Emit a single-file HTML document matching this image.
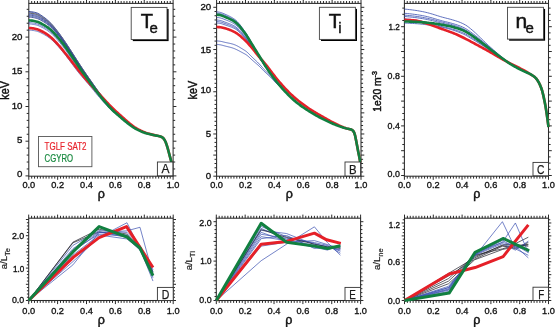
<!DOCTYPE html>
<html><head><meta charset="utf-8"><style>
html,body{margin:0;padding:0;background:#fff;overflow:hidden;width:556px;height:327px;}
svg{display:block;font-family:"Liberation Sans", sans-serif;will-change:transform;}
</style></head><body>
<svg width="556" height="327" viewBox="0 0 556 327">
<rect width="556" height="327" fill="#fff"/>
<path d="M28.80,176.2v3.6M28.80,3.4v-3.6M31.69,176.2v2.4M31.69,3.4v-2.4M34.57,176.2v2.4M34.57,3.4v-2.4M37.46,176.2v2.4M37.46,3.4v-2.4M40.34,176.2v2.4M40.34,3.4v-2.4M43.23,176.2v2.4M43.23,3.4v-2.4M46.12,176.2v2.4M46.12,3.4v-2.4M49.00,176.2v2.4M49.00,3.4v-2.4M51.89,176.2v2.4M51.89,3.4v-2.4M54.77,176.2v2.4M54.77,3.4v-2.4M57.66,176.2v3.6M57.66,3.4v-3.6M60.55,176.2v2.4M60.55,3.4v-2.4M63.43,176.2v2.4M63.43,3.4v-2.4M66.32,176.2v2.4M66.32,3.4v-2.4M69.20,176.2v2.4M69.20,3.4v-2.4M72.09,176.2v2.4M72.09,3.4v-2.4M74.98,176.2v2.4M74.98,3.4v-2.4M77.86,176.2v2.4M77.86,3.4v-2.4M80.75,176.2v2.4M80.75,3.4v-2.4M83.63,176.2v2.4M83.63,3.4v-2.4M86.52,176.2v3.6M86.52,3.4v-3.6M89.41,176.2v2.4M89.41,3.4v-2.4M92.29,176.2v2.4M92.29,3.4v-2.4M95.18,176.2v2.4M95.18,3.4v-2.4M98.06,176.2v2.4M98.06,3.4v-2.4M100.95,176.2v2.4M100.95,3.4v-2.4M103.84,176.2v2.4M103.84,3.4v-2.4M106.72,176.2v2.4M106.72,3.4v-2.4M109.61,176.2v2.4M109.61,3.4v-2.4M112.49,176.2v2.4M112.49,3.4v-2.4M115.38,176.2v3.6M115.38,3.4v-3.6M118.27,176.2v2.4M118.27,3.4v-2.4M121.15,176.2v2.4M121.15,3.4v-2.4M124.04,176.2v2.4M124.04,3.4v-2.4M126.92,176.2v2.4M126.92,3.4v-2.4M129.81,176.2v2.4M129.81,3.4v-2.4M132.70,176.2v2.4M132.70,3.4v-2.4M135.58,176.2v2.4M135.58,3.4v-2.4M138.47,176.2v2.4M138.47,3.4v-2.4M141.35,176.2v2.4M141.35,3.4v-2.4M144.24,176.2v3.6M144.24,3.4v-3.6M147.13,176.2v2.4M147.13,3.4v-2.4M150.01,176.2v2.4M150.01,3.4v-2.4M152.90,176.2v2.4M152.90,3.4v-2.4M155.78,176.2v2.4M155.78,3.4v-2.4M158.67,176.2v2.4M158.67,3.4v-2.4M161.56,176.2v2.4M161.56,3.4v-2.4M164.44,176.2v2.4M164.44,3.4v-2.4M167.33,176.2v2.4M167.33,3.4v-2.4M170.21,176.2v2.4M170.21,3.4v-2.4M173.10,176.2v3.6M173.10,3.4v-3.6M28.8,175.90h-3.3M173.1,175.90h3.3M28.8,168.96h-2.1M173.1,168.96h2.1M28.8,162.02h-2.1M173.1,162.02h2.1M28.8,155.08h-2.1M173.1,155.08h2.1M28.8,148.14h-2.1M173.1,148.14h2.1M28.8,141.20h-3.3M173.1,141.20h3.3M28.8,134.26h-2.1M173.1,134.26h2.1M28.8,127.32h-2.1M173.1,127.32h2.1M28.8,120.38h-2.1M173.1,120.38h2.1M28.8,113.44h-2.1M173.1,113.44h2.1M28.8,106.50h-3.3M173.1,106.50h3.3M28.8,99.56h-2.1M173.1,99.56h2.1M28.8,92.62h-2.1M173.1,92.62h2.1M28.8,85.68h-2.1M173.1,85.68h2.1M28.8,78.74h-2.1M173.1,78.74h2.1M28.8,71.80h-3.3M173.1,71.80h3.3M28.8,64.86h-2.1M173.1,64.86h2.1M28.8,57.92h-2.1M173.1,57.92h2.1M28.8,50.98h-2.1M173.1,50.98h2.1M28.8,44.04h-2.1M173.1,44.04h2.1M28.8,37.10h-3.3M173.1,37.10h3.3M28.8,30.16h-2.1M173.1,30.16h2.1M28.8,23.22h-2.1M173.1,23.22h2.1M28.8,16.28h-2.1M173.1,16.28h2.1M28.8,9.34h-2.1M173.1,9.34h2.1" stroke="#2a2a2a" stroke-width="1.0" fill="none"/>
<rect x="28.8" y="3.4" width="144.29999999999998" height="172.79999999999998" fill="none" stroke="#2a2a2a" stroke-width="1.05"/>
<text x="28.80" y="187.70" font-size="9.7" text-anchor="middle" fill="#111" textLength="12.8" lengthAdjust="spacingAndGlyphs" stroke="#111" stroke-width="0.35">0.0</text>
<text x="57.66" y="187.70" font-size="9.7" text-anchor="middle" fill="#111" textLength="12.8" lengthAdjust="spacingAndGlyphs" stroke="#111" stroke-width="0.35">0.2</text>
<text x="86.52" y="187.70" font-size="9.7" text-anchor="middle" fill="#111" textLength="12.8" lengthAdjust="spacingAndGlyphs" stroke="#111" stroke-width="0.35">0.4</text>
<text x="115.38" y="187.70" font-size="9.7" text-anchor="middle" fill="#111" textLength="12.8" lengthAdjust="spacingAndGlyphs" stroke="#111" stroke-width="0.35">0.6</text>
<text x="144.24" y="187.70" font-size="9.7" text-anchor="middle" fill="#111" textLength="12.8" lengthAdjust="spacingAndGlyphs" stroke="#111" stroke-width="0.35">0.8</text>
<text x="173.10" y="187.70" font-size="9.7" text-anchor="middle" fill="#111" textLength="12.8" lengthAdjust="spacingAndGlyphs" stroke="#111" stroke-width="0.35">1.0</text>
<text x="22.45" y="176.80" font-size="9.7" text-anchor="end" fill="#111" stroke="#111" stroke-width="0.35">0</text>
<text x="22.45" y="143.00" font-size="9.7" text-anchor="end" fill="#111" stroke="#111" stroke-width="0.35">5</text>
<text x="22.45" y="108.50" font-size="9.7" text-anchor="end" fill="#111" stroke="#111" stroke-width="0.35">10</text>
<text x="22.45" y="74.30" font-size="9.7" text-anchor="end" fill="#111" stroke="#111" stroke-width="0.35">15</text>
<text x="22.45" y="39.90" font-size="9.7" text-anchor="end" fill="#111" stroke="#111" stroke-width="0.35">20</text>
<path d="M28.80,11.50 L30.27,11.56 L31.74,11.73 L33.21,11.99 L34.68,12.30 L36.15,12.64 L37.63,13.17 L39.10,13.94 L40.57,14.87 L42.04,15.89 L43.51,16.91 L44.98,17.97 L46.45,19.13 L47.92,20.38 L49.39,21.72 L50.86,23.16 L52.33,24.75 L53.81,26.48 L55.28,28.31 L56.75,30.19 L58.22,32.09 L59.69,34.05 L61.16,36.07 L62.63,38.15 L64.10,40.27 L65.57,42.41 L67.04,44.62 L68.51,46.88 L69.98,49.18 L71.46,51.49 L72.93,53.81 L74.40,56.11 L75.87,58.40 L77.34,60.71 L78.81,63.01 L80.28,65.30 L81.75,67.53 L83.22,69.74 L84.69,71.92 L86.16,74.08 L87.64,76.22 L89.11,78.35 L90.58,80.46 L92.05,82.56 L93.52,84.66 L94.99,86.76 L96.46,88.83 L97.93,90.86 L99.40,92.84 L100.87,94.77 L102.34,96.66 L103.82,98.54 L105.29,100.38 L106.76,102.18 L108.23,103.93 L109.70,105.61 L111.17,107.23 L112.64,108.77 L114.11,110.23 L115.58,111.64 L117.05,113.02 L118.52,114.37 L119.99,115.72 L121.47,117.07 L122.94,118.42 L124.41,119.74 L125.88,121.02 L127.35,122.26 L128.82,123.47 L130.29,124.66 L131.76,125.81 L133.23,126.86 L134.70,127.82 L136.17,128.71 L137.65,129.54 L139.12,130.32 L140.59,131.04 L142.06,131.70 L143.53,132.31 L145.00,132.88" stroke="#243580" stroke-width="0.8" fill="none" stroke-linejoin="round" stroke-linecap="butt" />
<path d="M28.80,12.20 L30.27,12.26 L31.74,12.43 L33.21,12.69 L34.68,13.00 L36.15,13.34 L37.63,13.86 L39.10,14.62 L40.57,15.53 L42.04,16.52 L43.51,17.51 L44.98,18.56 L46.45,19.70 L47.92,20.93 L49.39,22.25 L50.86,23.67 L52.33,25.25 L53.81,26.96 L55.28,28.77 L56.75,30.63 L58.22,32.51 L59.69,34.45 L61.16,36.46 L62.63,38.53 L64.10,40.64 L65.57,42.77 L67.04,44.97 L68.51,47.22 L69.98,49.51 L71.46,51.81 L72.93,54.12 L74.40,56.41 L75.87,58.69 L77.34,60.99 L78.81,63.29 L80.28,65.56 L81.75,67.79 L83.22,69.98 L84.69,72.15 L86.16,74.31 L87.64,76.44 L89.11,78.56 L90.58,80.66 L92.05,82.75 L93.52,84.84 L94.99,86.93 L96.46,88.99 L97.93,91.02 L99.40,92.99 L100.87,94.90 L102.34,96.79 L103.82,98.66 L105.29,100.49 L106.76,102.29 L108.23,104.03 L109.70,105.71 L111.17,107.33 L112.64,108.87 L114.11,110.33 L115.58,111.74 L117.05,113.12 L118.52,114.47 L119.99,115.83 L121.47,117.18 L122.94,118.53 L124.41,119.85 L125.88,121.13 L127.35,122.37 L128.82,123.58 L130.29,124.76 L131.76,125.90 L133.23,126.95 L134.70,127.89 L136.17,128.77 L137.65,129.60 L139.12,130.37 L140.59,131.08 L142.06,131.72 L143.53,132.32 L145.00,132.88" stroke="#3a4fb0" stroke-width="0.8" fill="none" stroke-linejoin="round" stroke-linecap="butt" />
<path d="M28.80,13.10 L30.27,13.16 L31.74,13.33 L33.21,13.59 L34.68,13.90 L36.15,14.24 L37.63,14.75 L39.10,15.50 L40.57,16.39 L42.04,17.35 L43.51,18.32 L44.98,19.34 L46.45,20.44 L47.92,21.63 L49.39,22.91 L50.86,24.30 L52.33,25.84 L53.81,27.53 L55.28,29.32 L56.75,31.16 L58.22,33.03 L59.69,34.96 L61.16,36.95 L62.63,38.99 L64.10,41.08 L65.57,43.19 L67.04,45.37 L68.51,47.60 L69.98,49.87 L71.46,52.15 L72.93,54.44 L74.40,56.72 L75.87,58.99 L77.34,61.27 L78.81,63.56 L80.28,65.82 L81.75,68.04 L83.22,70.22 L84.69,72.38 L86.16,74.53 L87.64,76.65 L89.11,78.76 L90.58,80.86 L92.05,82.94 L93.52,85.02 L94.99,87.10 L96.46,89.16 L97.93,91.18 L99.40,93.14 L100.87,95.05 L102.34,96.93 L103.82,98.79 L105.29,100.62 L106.76,102.40 L108.23,104.14 L109.70,105.81 L111.17,107.42 L112.64,108.95 L114.11,110.41 L115.58,111.81 L117.05,113.18 L118.52,114.52 L119.99,115.87 L121.47,117.22 L122.94,118.55 L124.41,119.87 L125.88,121.14 L127.35,122.38 L128.82,123.58 L130.29,124.76 L131.76,125.89 L133.23,126.94 L134.70,127.89 L136.17,128.77 L137.65,129.59 L139.12,130.36 L140.59,131.07 L142.06,131.72 L143.53,132.32 L145.00,132.88" stroke="#707070" stroke-width="1.1" fill="none" stroke-linejoin="round" stroke-linecap="butt" />
<path d="M28.80,14.10 L30.27,14.16 L31.74,14.33 L33.21,14.59 L34.68,14.90 L36.15,15.24 L37.63,15.74 L39.10,16.44 L40.57,17.29 L42.04,18.20 L43.51,19.13 L44.98,20.12 L46.45,21.20 L47.92,22.38 L49.39,23.65 L50.86,25.01 L52.33,26.54 L53.81,28.19 L55.28,29.94 L56.75,31.74 L58.22,33.56 L59.69,35.46 L61.16,37.43 L62.63,39.46 L64.10,41.53 L65.57,43.64 L67.04,45.81 L68.51,48.03 L69.98,50.29 L71.46,52.57 L72.93,54.86 L74.40,57.12 L75.87,59.38 L77.34,61.65 L78.81,63.93 L80.28,66.18 L81.75,68.39 L83.22,70.56 L84.69,72.72 L86.16,74.85 L87.64,76.97 L89.11,79.07 L90.58,81.15 L92.05,83.23 L93.52,85.30 L94.99,87.37 L96.46,89.42 L97.93,91.43 L99.40,93.39 L100.87,95.29 L102.34,97.17 L103.82,99.02 L105.29,100.84 L106.76,102.62 L108.23,104.35 L109.70,106.02 L111.17,107.62 L112.64,109.14 L114.11,110.59 L115.58,111.99 L117.05,113.34 L118.52,114.68 L119.99,116.02 L121.47,117.36 L122.94,118.69 L124.41,120.00 L125.88,121.27 L127.35,122.49 L128.82,123.69 L130.29,124.86 L131.76,125.98 L133.23,127.02 L134.70,127.96 L136.17,128.83 L137.65,129.64 L139.12,130.40 L140.59,131.10 L142.06,131.74 L143.53,132.33 L145.00,132.88" stroke="#3a4fb0" stroke-width="0.8" fill="none" stroke-linejoin="round" stroke-linecap="butt" />
<path d="M28.80,15.10 L30.27,15.16 L31.74,15.33 L33.21,15.59 L34.68,15.90 L36.15,16.24 L37.63,16.73 L39.10,17.42 L40.57,18.25 L42.04,19.14 L43.51,20.04 L44.98,21.00 L46.45,22.05 L47.92,23.18 L49.39,24.41 L50.86,25.74 L52.33,27.23 L53.81,28.86 L55.28,30.59 L56.75,32.37 L58.22,34.18 L59.69,36.07 L61.16,38.02 L62.63,40.03 L64.10,42.08 L65.57,44.16 L67.04,46.31 L68.51,48.51 L69.98,50.75 L71.46,53.01 L72.93,55.28 L74.40,57.53 L75.87,59.77 L77.34,62.03 L78.81,64.30 L80.28,66.54 L81.75,68.74 L83.22,70.90 L84.69,73.05 L86.16,75.17 L87.64,77.28 L89.11,79.37 L90.58,81.45 L92.05,83.52 L93.52,85.58 L94.99,87.64 L96.46,89.69 L97.93,91.69 L99.40,93.64 L100.87,95.53 L102.34,97.40 L103.82,99.25 L105.29,101.06 L106.76,102.84 L108.23,104.56 L109.70,106.22 L111.17,107.81 L112.64,109.33 L114.11,110.77 L115.58,112.16 L117.05,113.51 L118.52,114.84 L119.99,116.18 L121.47,117.51 L122.94,118.83 L124.41,120.13 L125.88,121.39 L127.35,122.61 L128.82,123.79 L130.29,124.96 L131.76,126.07 L133.23,127.10 L134.70,128.03 L136.17,128.89 L137.65,129.70 L139.12,130.44 L140.59,131.13 L142.06,131.76 L143.53,132.34 L145.00,132.88" stroke="#243580" stroke-width="0.8" fill="none" stroke-linejoin="round" stroke-linecap="butt" />
<path d="M28.80,16.10 L30.27,16.17 L31.74,16.34 L33.21,16.59 L34.68,16.90 L36.15,17.24 L37.63,17.71 L39.10,18.37 L40.57,19.15 L42.04,19.99 L43.51,20.85 L44.98,21.78 L46.45,22.81 L47.92,23.93 L49.39,25.14 L50.86,26.46 L52.33,27.92 L53.81,29.52 L55.28,31.21 L56.75,32.95 L58.22,34.72 L59.69,36.57 L61.16,38.50 L62.63,40.49 L64.10,42.53 L65.57,44.61 L67.04,46.75 L68.51,48.94 L69.98,51.18 L71.46,53.43 L72.93,55.69 L74.40,57.93 L75.87,60.17 L77.34,62.42 L78.81,64.67 L80.28,66.90 L81.75,69.09 L83.22,71.25 L84.69,73.38 L86.16,75.50 L87.64,77.59 L89.11,79.68 L90.58,81.75 L92.05,83.81 L93.52,85.86 L94.99,87.92 L96.46,89.96 L97.93,91.96 L99.40,93.90 L100.87,95.79 L102.34,97.65 L103.82,99.49 L105.29,101.30 L106.76,103.06 L108.23,104.77 L109.70,106.42 L111.17,108.00 L112.64,109.50 L114.11,110.93 L115.58,112.30 L117.05,113.64 L118.52,114.95 L119.99,116.26 L121.47,117.58 L122.94,118.88 L124.41,120.17 L125.88,121.42 L127.35,122.62 L128.82,123.80 L130.29,124.96 L131.76,126.07 L133.23,127.09 L134.70,128.02 L136.17,128.88 L137.65,129.68 L139.12,130.43 L140.59,131.12 L142.06,131.75 L143.53,132.34 L145.00,132.88" stroke="#3a4fb0" stroke-width="0.8" fill="none" stroke-linejoin="round" stroke-linecap="butt" />
<path d="M28.80,17.10 L30.27,17.17 L31.74,17.35 L33.21,17.60 L34.68,17.90 L36.15,18.24 L37.63,18.70 L39.10,19.34 L40.57,20.10 L42.04,20.93 L43.51,21.76 L44.98,22.66 L46.45,23.66 L47.92,24.74 L49.39,25.91 L50.86,27.18 L52.33,28.62 L53.81,30.19 L55.28,31.86 L56.75,33.58 L58.22,35.34 L59.69,37.18 L61.16,39.09 L62.63,41.06 L64.10,43.07 L65.57,45.13 L67.04,47.25 L68.51,49.42 L69.98,51.63 L71.46,53.87 L72.93,56.11 L74.40,58.34 L75.87,60.56 L77.34,62.80 L78.81,65.04 L80.28,67.26 L81.75,69.44 L83.22,71.59 L84.69,73.71 L86.16,75.82 L87.64,77.91 L89.11,79.98 L90.58,82.04 L92.05,84.09 L93.52,86.14 L94.99,88.19 L96.46,90.22 L97.93,92.21 L99.40,94.15 L100.87,96.03 L102.34,97.89 L103.82,99.72 L105.29,101.52 L106.76,103.27 L108.23,104.98 L109.70,106.62 L111.17,108.19 L112.64,109.69 L114.11,111.11 L115.58,112.47 L117.05,113.80 L118.52,115.11 L119.99,116.42 L121.47,117.73 L122.94,119.02 L124.41,120.30 L125.88,121.54 L127.35,122.74 L128.82,123.91 L130.29,125.06 L131.76,126.16 L133.23,127.17 L134.70,128.09 L136.17,128.94 L137.65,129.73 L139.12,130.47 L140.59,131.15 L142.06,131.77 L143.53,132.35 L145.00,132.88" stroke="#243580" stroke-width="0.8" fill="none" stroke-linejoin="round" stroke-linecap="butt" />
<path d="M28.80,22.60 L30.27,22.66 L31.74,22.81 L33.21,23.04 L34.68,23.33 L36.15,23.63 L37.63,24.06 L39.10,24.66 L40.57,25.35 L42.04,26.11 L43.51,26.88 L44.98,27.72 L46.45,28.64 L47.92,29.65 L49.39,30.75 L50.86,31.94 L52.33,33.30 L53.81,34.78 L55.28,36.36 L56.75,37.99 L58.22,39.65 L59.69,41.39 L61.16,43.22 L62.63,45.11 L64.10,47.05 L65.57,49.02 L67.04,51.06 L68.51,53.16 L69.98,55.30 L71.46,57.46 L72.93,59.62 L74.40,61.77 L75.87,63.91 L77.34,66.06 L78.81,68.21 L80.28,70.33 L81.75,72.41 L83.22,74.45 L84.69,76.48 L86.16,78.48 L87.64,80.47 L89.11,82.44 L90.58,84.41 L92.05,86.36 L93.52,88.31 L94.99,90.25 L96.46,92.18 L97.93,94.07 L99.40,95.90 L100.87,97.68 L102.34,99.44 L103.82,101.17 L105.29,102.88 L106.76,104.55 L108.23,106.17 L109.70,107.74 L111.17,109.24 L112.64,110.66 L114.11,112.01 L115.58,113.31 L117.05,114.57 L118.52,115.81 L119.99,117.06 L121.47,118.31 L122.94,119.55 L124.41,120.77 L125.88,121.96 L127.35,123.11 L128.82,124.24 L130.29,125.35 L131.76,126.41 L133.23,127.39 L134.70,128.27 L136.17,129.09 L137.65,129.85 L139.12,130.56 L140.59,131.22 L142.06,131.81 L143.53,132.37 L145.00,132.88" stroke="#3a4fb0" stroke-width="0.7" fill="none" stroke-linejoin="round" stroke-linecap="butt" />
<path d="M28.80,23.90 L30.27,23.96 L31.74,24.11 L33.21,24.34 L34.68,24.63 L36.15,24.93 L37.63,25.37 L39.10,25.96 L40.57,26.66 L42.04,27.42 L43.51,28.18 L44.98,29.02 L46.45,29.92 L47.92,30.91 L49.39,31.99 L50.86,33.16 L52.33,34.49 L53.81,35.96 L55.28,37.52 L56.75,39.13 L58.22,40.77 L59.69,42.50 L61.16,44.31 L62.63,46.18 L64.10,48.10 L65.57,50.06 L67.04,52.08 L68.51,54.16 L69.98,56.28 L71.46,58.42 L72.93,60.56 L74.40,62.68 L75.87,64.79 L77.34,66.90 L78.81,69.00 L80.28,71.07 L81.75,73.09 L83.22,75.08 L84.69,77.04 L86.16,78.99 L87.64,80.93 L89.11,82.86 L90.58,84.79 L92.05,86.72 L93.52,88.65 L94.99,90.57 L96.46,92.48 L97.93,94.35 L99.40,96.17 L100.87,97.94 L102.34,99.69 L103.82,101.41 L105.29,103.11 L106.76,104.77 L108.23,106.38 L109.70,107.94 L111.17,109.43 L112.64,110.84 L114.11,112.19 L115.58,113.48 L117.05,114.73 L118.52,115.97 L119.99,117.21 L121.47,118.45 L122.94,119.69 L124.41,120.90 L125.88,122.09 L127.35,123.23 L128.82,124.35 L130.29,125.45 L131.76,126.50 L133.23,127.47 L134.70,128.34 L136.17,129.15 L137.65,129.90 L139.12,130.60 L140.59,131.25 L142.06,131.83 L143.53,132.38 L145.00,132.88" stroke="#3a4fb0" stroke-width="0.7" fill="none" stroke-linejoin="round" stroke-linecap="butt" />
<path d="M28.80,30.10 L30.27,30.14 L31.74,30.28 L33.21,30.49 L34.68,30.75 L36.15,31.03 L37.63,31.44 L39.10,32.01 L40.57,32.70 L42.04,33.44 L43.51,34.19 L44.98,35.00 L46.45,35.90 L47.92,36.87 L49.39,37.93 L50.86,39.08 L52.33,40.39 L53.81,41.81 L55.28,43.32 L56.75,44.88 L58.22,46.46 L59.69,48.11 L61.16,49.84 L62.63,51.63 L64.10,53.45 L65.57,55.31 L67.04,57.22 L68.51,59.18 L69.98,61.17 L71.46,63.18 L72.93,65.17 L74.40,67.15 L75.87,69.09 L77.34,71.00 L78.81,72.86 L80.28,74.67 L81.75,76.42 L83.22,78.13 L84.69,79.82 L86.16,81.52 L87.64,83.22 L89.11,84.96 L90.58,86.74 L92.05,88.52 L93.52,90.31 L94.99,92.11 L96.46,93.90 L97.93,95.66 L99.40,97.37 L100.87,99.03 L102.34,100.69 L103.82,102.32 L105.29,103.94 L106.76,105.52 L108.23,107.06 L109.70,108.55 L111.17,109.98 L112.64,111.33 L114.11,112.61 L115.58,113.84 L117.05,115.04 L118.52,116.22 L119.99,117.41 L121.47,118.61 L122.94,119.80 L124.41,120.98 L125.88,122.14 L127.35,123.25 L128.82,124.35 L130.29,125.45 L131.76,126.49 L133.23,127.46 L134.70,128.32 L136.17,129.13 L137.65,129.88 L139.12,130.58 L140.59,131.22 L142.06,131.81 L143.53,132.37 L145.00,132.88" stroke="#3a4fb0" stroke-width="0.7" fill="none" stroke-linejoin="round" stroke-linecap="butt" />
<path d="M28.80,28.00 L29.83,28.03 L30.86,28.11 L31.89,28.24 L32.92,28.40 L33.94,28.58 L34.97,28.79 L36.00,29.00 L37.03,29.26 L38.06,29.60 L39.09,30.01 L40.12,30.46 L41.15,30.96 L42.17,31.48 L43.20,32.01 L44.23,32.57 L45.26,33.19 L46.29,33.86 L47.32,34.57 L48.35,35.32 L49.38,36.11 L50.40,36.93 L51.43,37.82 L52.46,38.77 L53.49,39.77 L54.52,40.82 L55.55,41.90 L56.58,43.00 L57.61,44.11 L58.63,45.26 L59.66,46.45 L60.69,47.67 L61.72,48.92 L62.75,50.19 L63.78,51.46 L64.81,52.73 L65.84,54.01 L66.86,55.30 L67.89,56.60 L68.92,57.92 L69.95,59.24 L70.98,60.56 L72.01,61.89 L73.04,63.21 L74.07,64.53 L75.09,65.85 L76.12,67.17 L77.15,68.50 L78.18,69.84 L79.21,71.16 L80.24,72.46 L81.27,73.74 L82.30,74.99 L83.33,76.22 L84.35,77.44 L85.38,78.65 L86.41,79.85 L87.44,81.04 L88.47,82.21 L89.50,83.38 L90.53,84.54 L91.56,85.69 L92.58,86.84 L93.61,87.97 L94.64,89.08 L95.67,90.18 L96.70,91.28 L97.73,92.38 L98.76,93.47 L99.79,94.57 L100.81,95.68 L101.84,96.80 L102.87,97.92 L103.90,99.05 L104.93,100.17 L105.96,101.30 L106.99,102.41 L108.02,103.51 L109.04,104.60 L110.07,105.66 L111.10,106.70 L112.13,107.72 L113.16,108.71 L114.19,109.69 L115.22,110.65 L116.25,111.60 L117.27,112.53 L118.30,113.47 L119.33,114.40 L120.36,115.33 L121.39,116.25 L122.42,117.18 L123.45,118.09 L124.48,119.00 L125.51,119.90 L126.53,120.78 L127.56,121.65 L128.59,122.52 L129.62,123.40 L130.65,124.26 L131.68,125.09 L132.71,125.89 L133.74,126.62 L134.76,127.30 L135.79,127.94 L136.82,128.56 L137.85,129.15 L138.88,129.71 L139.91,130.23 L140.94,130.73 L141.97,131.20 L142.99,131.65 L144.02,132.08 L145.05,132.48 L146.08,132.86 L147.11,133.22 L148.14,133.54 L149.17,133.84 L150.20,134.12 L151.22,134.38 L152.25,134.63 L153.28,134.87 L154.31,135.11 L155.34,135.36 L156.37,135.57 L157.40,135.78 L158.43,135.99 L159.45,136.24 L160.48,136.56 L161.51,136.96 L162.54,137.53 L163.57,138.51 L164.60,139.97 L165.63,142.04 L166.66,144.88 L167.68,148.21 L168.71,151.99 L169.74,155.82 L170.77,159.68 L171.80,163.50" stroke="#e52028" stroke-width="2.6" fill="none" stroke-linejoin="round" stroke-linecap="butt" />
<path d="M28.80,20.40 L29.83,20.43 L30.86,20.51 L31.89,20.63 L32.92,20.79 L33.94,20.98 L34.97,21.18 L36.00,21.40 L37.03,21.67 L38.06,22.04 L39.09,22.48 L40.12,22.97 L41.15,23.50 L42.17,24.06 L43.20,24.61 L44.23,25.19 L45.26,25.81 L46.29,26.47 L47.32,27.17 L48.35,27.92 L49.38,28.70 L50.40,29.53 L51.43,30.44 L52.46,31.43 L53.49,32.47 L54.52,33.57 L55.55,34.70 L56.58,35.85 L57.61,37.02 L58.63,38.22 L59.66,39.46 L60.69,40.74 L61.72,42.06 L62.75,43.40 L63.78,44.76 L64.81,46.14 L65.84,47.55 L66.86,48.99 L67.89,50.47 L68.92,51.96 L69.95,53.47 L70.98,54.99 L72.01,56.52 L73.04,58.05 L74.07,59.57 L75.09,61.09 L76.12,62.61 L77.15,64.14 L78.18,65.67 L79.21,67.20 L80.24,68.71 L81.27,70.21 L82.30,71.68 L83.33,73.15 L84.35,74.60 L85.38,76.05 L86.41,77.48 L87.44,78.91 L88.47,80.33 L89.50,81.75 L90.53,83.16 L91.56,84.56 L92.58,85.96 L93.61,87.36 L94.64,88.76 L95.67,90.15 L96.70,91.53 L97.73,92.89 L98.76,94.23 L99.79,95.53 L100.81,96.81 L101.84,98.08 L102.87,99.34 L103.90,100.59 L104.93,101.82 L105.96,103.03 L106.99,104.22 L108.02,105.39 L109.04,106.52 L110.07,107.63 L111.10,108.70 L112.13,109.73 L113.16,110.72 L114.19,111.68 L115.22,112.62 L116.25,113.53 L117.27,114.44 L118.30,115.33 L119.33,116.22 L120.36,117.11 L121.39,118.01 L122.42,118.90 L123.45,119.78 L124.48,120.65 L125.51,121.51 L126.53,122.34 L127.56,123.15 L128.59,123.95 L129.62,124.74 L130.65,125.52 L131.68,126.27 L132.71,126.98 L133.74,127.64 L134.76,128.25 L135.79,128.83 L136.82,129.39 L137.85,129.92 L138.88,130.43 L139.91,130.90 L140.94,131.35 L141.97,131.77 L142.99,132.17 L144.02,132.54 L145.05,132.90 L146.08,133.24 L147.11,133.55 L148.14,133.84 L149.17,134.10 L150.20,134.35 L151.22,134.58 L152.25,134.80 L153.28,135.02 L154.31,135.23 L155.34,135.45 L156.37,135.64 L157.40,135.83 L158.43,136.02 L159.45,136.25 L160.48,136.55 L161.51,136.95 L162.54,137.53 L163.57,138.51 L164.60,139.97 L165.63,142.04 L166.66,144.88 L167.68,148.21 L168.71,151.99 L169.74,155.82 L170.77,159.68 L171.80,163.50" stroke="#118040" stroke-width="2.6" fill="none" stroke-linejoin="round" stroke-linecap="butt" />
<rect x="132.79999999999998" y="9.0" width="35.8" height="32.1" fill="#000"/>
<rect x="131.2" y="7.4" width="35.8" height="32.1" fill="#fff" stroke="#444" stroke-width="0.9"/>
<text x="146.8" y="28.2" font-size="20" text-anchor="middle" fill="#111" stroke="#111" stroke-width="0.55">T</text>
<text x="153.6" y="33.3" font-size="15" text-anchor="middle" fill="#111" stroke="#111" stroke-width="0.4">e</text>
<rect x="157.4" y="162.0" width="15.5" height="13.800000000000011" fill="#fff" stroke="#333" stroke-width="0.9"/>
<text x="165.40" y="173.10" font-size="12.5" text-anchor="middle" fill="#1a1a1a" textLength="8.0" lengthAdjust="spacingAndGlyphs" stroke="#1a1a1a" stroke-width="0.25">A</text>
<rect x="38.5" y="136.5" width="53.4" height="30.2" fill="#fff" stroke="#555" stroke-width="0.9"/>
<text x="44.6" y="149.6" font-size="10" text-anchor="start" fill="#e8232c" textLength="41.9" lengthAdjust="spacingAndGlyphs" stroke="#e8232c" stroke-width="0.2">TGLF SAT2</text>
<text x="44.6" y="162.1" font-size="10" text-anchor="start" fill="#14873c" textLength="28.4" lengthAdjust="spacingAndGlyphs" stroke="#14873c" stroke-width="0.2">CGYRO</text>
<text transform="translate(9.4,90.4) rotate(-90)" font-size="13" text-anchor="middle" fill="#111" textLength="18.6" lengthAdjust="spacingAndGlyphs" stroke="#111" stroke-width="0.45">keV</text>
<path d="M216.60,176.2v3.6M216.60,3.4v-3.6M219.49,176.2v2.4M219.49,3.4v-2.4M222.38,176.2v2.4M222.38,3.4v-2.4M225.26,176.2v2.4M225.26,3.4v-2.4M228.15,176.2v2.4M228.15,3.4v-2.4M231.04,176.2v2.4M231.04,3.4v-2.4M233.93,176.2v2.4M233.93,3.4v-2.4M236.82,176.2v2.4M236.82,3.4v-2.4M239.70,176.2v2.4M239.70,3.4v-2.4M242.59,176.2v2.4M242.59,3.4v-2.4M245.48,176.2v3.6M245.48,3.4v-3.6M248.37,176.2v2.4M248.37,3.4v-2.4M251.26,176.2v2.4M251.26,3.4v-2.4M254.14,176.2v2.4M254.14,3.4v-2.4M257.03,176.2v2.4M257.03,3.4v-2.4M259.92,176.2v2.4M259.92,3.4v-2.4M262.81,176.2v2.4M262.81,3.4v-2.4M265.70,176.2v2.4M265.70,3.4v-2.4M268.58,176.2v2.4M268.58,3.4v-2.4M271.47,176.2v2.4M271.47,3.4v-2.4M274.36,176.2v3.6M274.36,3.4v-3.6M277.25,176.2v2.4M277.25,3.4v-2.4M280.14,176.2v2.4M280.14,3.4v-2.4M283.02,176.2v2.4M283.02,3.4v-2.4M285.91,176.2v2.4M285.91,3.4v-2.4M288.80,176.2v2.4M288.80,3.4v-2.4M291.69,176.2v2.4M291.69,3.4v-2.4M294.58,176.2v2.4M294.58,3.4v-2.4M297.46,176.2v2.4M297.46,3.4v-2.4M300.35,176.2v2.4M300.35,3.4v-2.4M303.24,176.2v3.6M303.24,3.4v-3.6M306.13,176.2v2.4M306.13,3.4v-2.4M309.02,176.2v2.4M309.02,3.4v-2.4M311.90,176.2v2.4M311.90,3.4v-2.4M314.79,176.2v2.4M314.79,3.4v-2.4M317.68,176.2v2.4M317.68,3.4v-2.4M320.57,176.2v2.4M320.57,3.4v-2.4M323.46,176.2v2.4M323.46,3.4v-2.4M326.34,176.2v2.4M326.34,3.4v-2.4M329.23,176.2v2.4M329.23,3.4v-2.4M332.12,176.2v3.6M332.12,3.4v-3.6M335.01,176.2v2.4M335.01,3.4v-2.4M337.90,176.2v2.4M337.90,3.4v-2.4M340.78,176.2v2.4M340.78,3.4v-2.4M343.67,176.2v2.4M343.67,3.4v-2.4M346.56,176.2v2.4M346.56,3.4v-2.4M349.45,176.2v2.4M349.45,3.4v-2.4M352.34,176.2v2.4M352.34,3.4v-2.4M355.22,176.2v2.4M355.22,3.4v-2.4M358.11,176.2v2.4M358.11,3.4v-2.4M361.00,176.2v3.6M361.00,3.4v-3.6M216.6,176.20h-3.3M361.0,176.20h3.3M216.6,171.98h-2.1M361.0,171.98h2.1M216.6,167.75h-2.1M361.0,167.75h2.1M216.6,163.53h-2.1M361.0,163.53h2.1M216.6,159.31h-2.1M361.0,159.31h2.1M216.6,155.09h-3.3M361.0,155.09h3.3M216.6,150.86h-2.1M361.0,150.86h2.1M216.6,146.64h-2.1M361.0,146.64h2.1M216.6,142.42h-2.1M361.0,142.42h2.1M216.6,138.20h-2.1M361.0,138.20h2.1M216.6,133.97h-3.3M361.0,133.97h3.3M216.6,129.75h-2.1M361.0,129.75h2.1M216.6,125.53h-2.1M361.0,125.53h2.1M216.6,121.31h-2.1M361.0,121.31h2.1M216.6,117.08h-2.1M361.0,117.08h2.1M216.6,112.86h-3.3M361.0,112.86h3.3M216.6,108.64h-2.1M361.0,108.64h2.1M216.6,104.42h-2.1M361.0,104.42h2.1M216.6,100.19h-2.1M361.0,100.19h2.1M216.6,95.97h-2.1M361.0,95.97h2.1M216.6,91.75h-3.3M361.0,91.75h3.3M216.6,87.53h-2.1M361.0,87.53h2.1M216.6,83.30h-2.1M361.0,83.30h2.1M216.6,79.08h-2.1M361.0,79.08h2.1M216.6,74.86h-2.1M361.0,74.86h2.1M216.6,70.64h-3.3M361.0,70.64h3.3M216.6,66.41h-2.1M361.0,66.41h2.1M216.6,62.19h-2.1M361.0,62.19h2.1M216.6,57.97h-2.1M361.0,57.97h2.1M216.6,53.75h-2.1M361.0,53.75h2.1M216.6,49.52h-3.3M361.0,49.52h3.3M216.6,45.30h-2.1M361.0,45.30h2.1M216.6,41.08h-2.1M361.0,41.08h2.1M216.6,36.86h-2.1M361.0,36.86h2.1M216.6,32.63h-2.1M361.0,32.63h2.1M216.6,28.41h-3.3M361.0,28.41h3.3M216.6,24.19h-2.1M361.0,24.19h2.1M216.6,19.97h-2.1M361.0,19.97h2.1M216.6,15.74h-2.1M361.0,15.74h2.1M216.6,11.52h-2.1M361.0,11.52h2.1M216.6,7.30h-3.3M361.0,7.30h3.3" stroke="#2a2a2a" stroke-width="1.0" fill="none"/>
<rect x="216.6" y="3.4" width="144.4" height="172.79999999999998" fill="none" stroke="#2a2a2a" stroke-width="1.05"/>
<text x="216.60" y="187.70" font-size="9.7" text-anchor="middle" fill="#111" textLength="12.8" lengthAdjust="spacingAndGlyphs" stroke="#111" stroke-width="0.35">0.0</text>
<text x="245.48" y="187.70" font-size="9.7" text-anchor="middle" fill="#111" textLength="12.8" lengthAdjust="spacingAndGlyphs" stroke="#111" stroke-width="0.35">0.2</text>
<text x="274.36" y="187.70" font-size="9.7" text-anchor="middle" fill="#111" textLength="12.8" lengthAdjust="spacingAndGlyphs" stroke="#111" stroke-width="0.35">0.4</text>
<text x="303.24" y="187.70" font-size="9.7" text-anchor="middle" fill="#111" textLength="12.8" lengthAdjust="spacingAndGlyphs" stroke="#111" stroke-width="0.35">0.6</text>
<text x="332.12" y="187.70" font-size="9.7" text-anchor="middle" fill="#111" textLength="12.8" lengthAdjust="spacingAndGlyphs" stroke="#111" stroke-width="0.35">0.8</text>
<text x="361.00" y="187.70" font-size="9.7" text-anchor="middle" fill="#111" textLength="12.8" lengthAdjust="spacingAndGlyphs" stroke="#111" stroke-width="0.35">1.0</text>
<text x="211.20" y="179.00" font-size="9.7" text-anchor="end" fill="#111" stroke="#111" stroke-width="0.35">0</text>
<text x="211.20" y="136.60" font-size="9.7" text-anchor="end" fill="#111" stroke="#111" stroke-width="0.35">5</text>
<text x="211.20" y="93.20" font-size="9.7" text-anchor="end" fill="#111" stroke="#111" stroke-width="0.35">10</text>
<text x="211.20" y="53.00" font-size="9.7" text-anchor="end" fill="#111" stroke="#111" stroke-width="0.35">15</text>
<text x="211.20" y="9.90" font-size="9.7" text-anchor="end" fill="#111" stroke="#111" stroke-width="0.35">20</text>
<path d="M216.60,11.80 L217.53,11.89 L218.46,12.02 L219.39,12.19 L220.32,12.39 L221.25,12.66 L222.17,13.00 L223.10,13.38 L224.03,13.78 L224.96,14.18 L225.89,14.58 L226.82,14.99 L227.75,15.41 L228.68,15.85 L229.61,16.31 L230.54,16.79 L231.47,17.30 L232.39,17.85 L233.32,18.43 L234.25,19.06 L235.18,19.74 L236.11,20.51 L237.04,21.39 L237.97,22.37 L238.90,23.42 L239.83,24.55 L240.76,25.74 L241.69,26.98 L242.62,28.25 L243.54,29.55 L244.47,30.86 L245.40,32.18 L246.33,33.59 L247.26,35.10 L248.19,36.67 L249.12,38.28 L250.05,39.91 L250.98,41.53 L251.91,43.12 L252.84,44.67 L253.76,46.22 L254.69,47.77 L255.62,49.32 L256.55,50.88 L257.48,52.44 L258.41,54.01 L259.34,55.61 L260.27,57.22 L261.20,58.84 L262.13,60.45 L263.06,62.04 L263.98,63.60 L264.91,65.12 L265.84,66.58 L266.77,68.00 L267.70,69.41 L268.63,70.79 L269.56,72.16 L270.49,73.50 L271.42,74.83 L272.35,76.12 L273.28,77.40 L274.21,78.65 L275.13,79.87 L276.06,81.06 L276.99,82.23 L277.92,83.38 L278.85,84.50 L279.78,85.61 L280.71,86.69 L281.64,87.76 L282.57,88.80 L283.50,89.83 L284.43,90.84 L285.35,91.82 L286.28,92.79 L287.21,93.75 L288.14,94.70 L289.07,95.64 L290.00,96.56" stroke="#3a4fb0" stroke-width="0.8" fill="none" stroke-linejoin="round" stroke-linecap="butt" />
<path d="M216.60,13.10 L217.53,13.18 L218.46,13.31 L219.39,13.48 L220.32,13.67 L221.25,13.93 L222.17,14.25 L223.10,14.61 L224.03,15.00 L224.96,15.38 L225.89,15.77 L226.82,16.16 L227.75,16.56 L228.68,16.98 L229.61,17.42 L230.54,17.89 L231.47,18.38 L232.39,18.91 L233.32,19.47 L234.25,20.08 L235.18,20.73 L236.11,21.48 L237.04,22.32 L237.97,23.26 L238.90,24.28 L239.83,25.37 L240.76,26.52 L241.69,27.72 L242.62,28.95 L243.54,30.21 L244.47,31.48 L245.40,32.76 L246.33,34.14 L247.26,35.62 L248.19,37.16 L249.12,38.74 L250.05,40.34 L250.98,41.94 L251.91,43.50 L252.84,45.03 L253.76,46.55 L254.69,48.08 L255.62,49.61 L256.55,51.14 L257.48,52.68 L258.41,54.23 L259.34,55.81 L260.27,57.40 L261.20,59.00 L262.13,60.59 L263.06,62.17 L263.98,63.71 L264.91,65.22 L265.84,66.67 L266.77,68.08 L267.70,69.48 L268.63,70.85 L269.56,72.21 L270.49,73.55 L271.42,74.86 L272.35,76.16 L273.28,77.42 L274.21,78.67 L275.13,79.88 L276.06,81.07 L276.99,82.24 L277.92,83.38 L278.85,84.51 L279.78,85.61 L280.71,86.69 L281.64,87.76 L282.57,88.80 L283.50,89.83 L284.43,90.84 L285.35,91.82 L286.28,92.79 L287.21,93.75 L288.14,94.70 L289.07,95.64 L290.00,96.56" stroke="#3a4fb0" stroke-width="0.8" fill="none" stroke-linejoin="round" stroke-linecap="butt" />
<path d="M216.60,17.40 L217.53,17.48 L218.46,17.60 L219.39,17.76 L220.32,17.94 L221.25,18.18 L222.17,18.49 L223.10,18.84 L224.03,19.21 L224.96,19.59 L225.89,19.95 L226.82,20.31 L227.75,20.68 L228.68,21.06 L229.61,21.45 L230.54,21.86 L231.47,22.30 L232.39,22.77 L233.32,23.28 L234.25,23.83 L235.18,24.42 L236.11,25.11 L237.04,25.89 L237.97,26.76 L238.90,27.71 L239.83,28.73 L240.76,29.80 L241.69,30.92 L242.62,32.07 L243.54,33.24 L244.47,34.43 L245.40,35.62 L246.33,36.91 L247.26,38.28 L248.19,39.71 L249.12,41.18 L250.05,42.67 L250.98,44.14 L251.91,45.58 L252.84,46.99 L253.76,48.40 L254.69,49.82 L255.62,51.23 L256.55,52.64 L257.48,54.05 L258.41,55.47 L259.34,56.92 L260.27,58.38 L261.20,59.86 L262.13,61.34 L263.06,62.82 L263.98,64.28 L264.91,65.72 L265.84,67.13 L266.77,68.49 L267.70,69.84 L268.63,71.17 L269.56,72.48 L270.49,73.78 L271.42,75.05 L272.35,76.31 L273.28,77.55 L274.21,78.76 L275.13,79.95 L276.06,81.12 L276.99,82.26 L277.92,83.39 L278.85,84.51 L279.78,85.61 L280.71,86.69 L281.64,87.76 L282.57,88.80 L283.50,89.83 L284.43,90.84 L285.35,91.82 L286.28,92.79 L287.21,93.75 L288.14,94.70 L289.07,95.64 L290.00,96.56" stroke="#3a4fb0" stroke-width="0.8" fill="none" stroke-linejoin="round" stroke-linecap="butt" />
<path d="M216.60,20.00 L217.53,20.08 L218.46,20.20 L219.39,20.35 L220.32,20.52 L221.25,20.75 L222.17,21.04 L223.10,21.37 L224.03,21.73 L224.96,22.09 L225.89,22.43 L226.82,22.77 L227.75,23.11 L228.68,23.45 L229.61,23.81 L230.54,24.18 L231.47,24.57 L232.39,25.00 L233.32,25.46 L234.25,25.96 L235.18,26.51 L236.11,27.15 L237.04,27.89 L237.97,28.71 L238.90,29.60 L239.83,30.56 L240.76,31.58 L241.69,32.64 L242.62,33.73 L243.54,34.84 L244.47,35.96 L245.40,37.10 L246.33,38.32 L247.26,39.62 L248.19,40.99 L249.12,42.39 L250.05,43.81 L250.98,45.21 L251.91,46.59 L252.84,47.93 L253.76,49.28 L254.69,50.63 L255.62,51.99 L256.55,53.35 L257.48,54.71 L258.41,56.07 L259.34,57.46 L260.27,58.88 L261.20,60.31 L262.13,61.75 L263.06,63.19 L263.98,64.62 L264.91,66.03 L265.84,67.40 L266.77,68.74 L267.70,70.06 L268.63,71.36 L269.56,72.65 L270.49,73.92 L271.42,75.18 L272.35,76.41 L273.28,77.62 L274.21,78.82 L275.13,79.99 L276.06,81.15 L276.99,82.28 L277.92,83.40 L278.85,84.51 L279.78,85.61 L280.71,86.69 L281.64,87.76 L282.57,88.80 L283.50,89.83 L284.43,90.84 L285.35,91.82 L286.28,92.79 L287.21,93.75 L288.14,94.70 L289.07,95.64 L290.00,96.56" stroke="#3a4fb0" stroke-width="0.8" fill="none" stroke-linejoin="round" stroke-linecap="butt" />
<path d="M216.60,21.50 L217.53,21.57 L218.46,21.68 L219.39,21.82 L220.32,21.98 L221.25,22.20 L222.17,22.48 L223.10,22.80 L224.03,23.14 L224.96,23.49 L225.89,23.82 L226.82,24.14 L227.75,24.46 L228.68,24.79 L229.61,25.13 L230.54,25.48 L231.47,25.86 L232.39,26.26 L233.32,26.70 L234.25,27.18 L235.18,27.71 L236.11,28.32 L237.04,29.02 L237.97,29.81 L238.90,30.67 L239.83,31.59 L240.76,32.56 L241.69,33.58 L242.62,34.63 L243.54,35.70 L244.47,36.78 L245.40,37.88 L246.33,39.06 L247.26,40.33 L248.19,41.66 L249.12,43.02 L250.05,44.40 L250.98,45.77 L251.91,47.10 L252.84,48.41 L253.76,49.73 L254.69,51.04 L255.62,52.37 L256.55,53.69 L257.48,55.02 L258.41,56.35 L259.34,57.71 L260.27,59.09 L261.20,60.49 L262.13,61.91 L263.06,63.32 L263.98,64.73 L264.91,66.13 L265.84,67.49 L266.77,68.82 L267.70,70.13 L268.63,71.42 L269.56,72.70 L270.49,73.97 L271.42,75.21 L272.35,76.44 L273.28,77.65 L274.21,78.84 L275.13,80.00 L276.06,81.15 L276.99,82.29 L277.92,83.41 L278.85,84.51 L279.78,85.61 L280.71,86.69 L281.64,87.76 L282.57,88.80 L283.50,89.83 L284.43,90.84 L285.35,91.82 L286.28,92.79 L287.21,93.75 L288.14,94.70 L289.07,95.64 L290.00,96.56" stroke="#3a4fb0" stroke-width="0.8" fill="none" stroke-linejoin="round" stroke-linecap="butt" />
<path d="M216.60,23.00 L217.53,23.06 L218.46,23.16 L219.39,23.29 L220.32,23.44 L221.25,23.65 L222.17,23.92 L223.10,24.23 L224.03,24.56 L224.96,24.89 L225.89,25.20 L226.82,25.51 L227.75,25.82 L228.68,26.13 L229.61,26.45 L230.54,26.79 L231.47,27.14 L232.39,27.53 L233.32,27.95 L234.25,28.40 L235.18,28.90 L236.11,29.48 L237.04,30.16 L237.97,30.91 L238.90,31.73 L239.83,32.61 L240.76,33.55 L241.69,34.52 L242.62,35.53 L243.54,36.56 L244.47,37.61 L245.40,38.66 L246.33,39.81 L247.26,41.04 L248.19,42.32 L249.12,43.65 L250.05,44.99 L250.98,46.32 L251.91,47.62 L252.84,48.89 L253.76,50.17 L254.69,51.46 L255.62,52.75 L256.55,54.04 L257.48,55.33 L258.41,56.63 L259.34,57.95 L260.27,59.31 L261.20,60.68 L262.13,62.06 L263.06,63.46 L263.98,64.85 L264.91,66.23 L265.84,67.58 L266.77,68.90 L267.70,70.20 L268.63,71.49 L269.56,72.76 L270.49,74.01 L271.42,75.25 L272.35,76.47 L273.28,77.67 L274.21,78.85 L275.13,80.02 L276.06,81.16 L276.99,82.29 L277.92,83.41 L278.85,84.51 L279.78,85.61 L280.71,86.69 L281.64,87.76 L282.57,88.80 L283.50,89.83 L284.43,90.84 L285.35,91.82 L286.28,92.79 L287.21,93.75 L288.14,94.70 L289.07,95.64 L290.00,96.56" stroke="#3a4fb0" stroke-width="0.8" fill="none" stroke-linejoin="round" stroke-linecap="butt" />
<path d="M216.60,40.90 L217.59,40.98 L218.58,41.08 L219.58,41.20 L220.57,41.33 L221.56,41.51 L222.55,41.74 L223.55,42.00 L224.54,42.24 L225.53,42.47 L226.52,42.68 L227.52,42.88 L228.51,43.08 L229.50,43.28 L230.49,43.50 L231.49,43.75 L232.48,44.02 L233.47,44.33 L234.46,44.69 L235.46,45.09 L236.45,45.55 L237.44,46.04 L238.43,46.57 L239.43,47.14 L240.42,47.72 L241.41,48.33 L242.40,48.95 L243.39,49.57 L244.39,50.20 L245.38,50.83 L246.37,51.57 L247.36,52.41 L248.36,53.34 L249.35,54.34 L250.34,55.38 L251.33,56.39 L252.33,57.35 L253.32,58.28 L254.31,59.21 L255.30,60.14 L256.30,61.07 L257.29,62.03 L258.28,63.01 L259.27,64.03 L260.27,65.10 L261.26,66.21 L262.25,67.34 L263.24,68.46 L264.24,69.55 L265.23,70.60 L266.22,71.60 L267.21,72.60 L268.21,73.61 L269.20,74.63 L270.19,75.69 L271.18,76.78 L272.17,77.91 L273.17,79.05 L274.16,80.17 L275.15,81.27 L276.14,82.37 L277.14,83.45 L278.13,84.52 L279.12,85.59 L280.11,86.65 L281.11,87.71 L282.10,88.77 L283.09,89.82 L284.08,90.84 L285.08,91.85 L286.07,92.83 L287.06,93.81 L288.05,94.78 L289.05,95.74 L290.04,96.69 L291.03,97.62 L292.02,98.54 L293.02,99.44 L294.01,100.32 L295.00,101.17" stroke="#3a4fb0" stroke-width="0.8" fill="none" stroke-linejoin="round" stroke-linecap="butt" />
<path d="M216.60,44.40 L217.59,44.48 L218.58,44.59 L219.58,44.72 L220.57,44.87 L221.56,45.08 L222.55,45.33 L223.55,45.61 L224.54,45.89 L225.53,46.14 L226.52,46.39 L227.52,46.62 L228.51,46.86 L229.50,47.10 L230.49,47.36 L231.49,47.64 L232.48,47.94 L233.47,48.29 L234.46,48.67 L235.46,49.10 L236.45,49.56 L237.44,50.04 L238.43,50.54 L239.43,51.06 L240.42,51.58 L241.41,52.11 L242.40,52.65 L243.39,53.18 L244.39,53.71 L245.38,54.25 L246.37,54.89 L247.36,55.64 L248.36,56.48 L249.35,57.39 L250.34,58.35 L251.33,59.29 L252.33,60.17 L253.32,61.03 L254.31,61.87 L255.30,62.72 L256.30,63.58 L257.29,64.45 L258.28,65.34 L259.27,66.28 L260.27,67.26 L261.26,68.28 L262.25,69.32 L263.24,70.34 L264.24,71.33 L265.23,72.27 L266.22,73.17 L267.21,74.07 L268.21,74.97 L269.20,75.90 L270.19,76.86 L271.18,77.85 L272.17,78.89 L273.17,79.94 L274.16,80.98 L275.15,82.00 L276.14,83.01 L277.14,84.02 L278.13,85.02 L279.12,86.03 L280.11,87.04 L281.11,88.05 L282.10,89.07 L283.09,90.08 L284.08,91.07 L285.08,92.04 L286.07,93.00 L287.06,93.94 L288.05,94.88 L289.05,95.82 L290.04,96.74 L291.03,97.66 L292.02,98.56 L293.02,99.45 L294.01,100.32 L295.00,101.17" stroke="#3a4fb0" stroke-width="0.8" fill="none" stroke-linejoin="round" stroke-linecap="butt" />
<path d="M216.60,27.00 L217.63,27.02 L218.67,27.09 L219.70,27.17 L220.74,27.29 L221.77,27.47 L222.80,27.71 L223.84,27.98 L224.87,28.26 L225.90,28.56 L226.94,28.88 L227.97,29.22 L229.01,29.59 L230.04,29.99 L231.07,30.42 L232.11,30.87 L233.14,31.36 L234.17,31.87 L235.21,32.41 L236.24,33.02 L237.28,33.70 L238.31,34.45 L239.34,35.26 L240.38,36.12 L241.41,37.01 L242.45,37.94 L243.48,38.88 L244.51,39.84 L245.55,40.82 L246.58,41.86 L247.61,42.96 L248.65,44.11 L249.68,45.29 L250.72,46.49 L251.75,47.71 L252.78,48.94 L253.82,50.22 L254.85,51.53 L255.88,52.86 L256.92,54.17 L257.95,55.44 L258.99,56.67 L260.02,57.87 L261.05,59.06 L262.09,60.23 L263.12,61.41 L264.16,62.60 L265.19,63.82 L266.22,65.07 L267.26,66.37 L268.29,67.71 L269.32,69.07 L270.36,70.45 L271.39,71.83 L272.43,73.21 L273.46,74.57 L274.49,75.91 L275.53,77.22 L276.56,78.48 L277.59,79.74 L278.63,80.98 L279.66,82.21 L280.70,83.42 L281.73,84.62 L282.76,85.79 L283.80,86.94 L284.83,88.06 L285.87,89.16 L286.90,90.23 L287.93,91.28 L288.97,92.32 L290.00,93.34 L291.03,94.33 L292.07,95.31 L293.10,96.26 L294.14,97.19 L295.17,98.09 L296.20,98.97 L297.24,99.83 L298.27,100.67 L299.31,101.49 L300.34,102.30 L301.37,103.10 L302.41,103.88 L303.44,104.64 L304.47,105.39 L305.51,106.13 L306.54,106.86 L307.58,107.57 L308.61,108.27 L309.64,108.96 L310.68,109.64 L311.71,110.31 L312.74,110.96 L313.78,111.60 L314.81,112.22 L315.85,112.84 L316.88,113.45 L317.91,114.05 L318.95,114.64 L319.98,115.23 L321.02,115.82 L322.05,116.40 L323.08,116.97 L324.12,117.55 L325.15,118.13 L326.18,118.70 L327.22,119.28 L328.25,119.86 L329.29,120.44 L330.32,121.02 L331.35,121.59 L332.39,122.15 L333.42,122.71 L334.45,123.25 L335.49,123.78 L336.52,124.29 L337.56,124.79 L338.59,125.27 L339.62,125.72 L340.66,126.16 L341.69,126.58 L342.73,126.99 L343.76,127.41 L344.79,127.80 L345.83,128.15 L346.86,128.43 L347.89,128.68 L348.93,128.92 L349.96,129.19 L351.00,129.49 L352.03,129.92 L353.06,130.76 L354.10,132.47 L355.13,135.73 L356.16,140.82 L357.20,146.31 L358.23,151.67 L359.27,156.85 L360.30,162.50" stroke="#e52028" stroke-width="2.6" fill="none" stroke-linejoin="round" stroke-linecap="butt" />
<path d="M216.60,14.60 L217.63,14.70 L218.67,14.85 L219.70,15.04 L220.74,15.28 L221.77,15.60 L222.80,15.99 L223.84,16.41 L224.87,16.85 L225.90,17.27 L226.94,17.70 L227.97,18.14 L229.01,18.59 L230.04,19.07 L231.07,19.57 L232.11,20.12 L233.14,20.71 L234.17,21.35 L235.21,22.05 L236.24,22.86 L237.28,23.80 L238.31,24.84 L239.34,25.99 L240.38,27.20 L241.41,28.49 L242.45,29.81 L243.48,31.17 L244.51,32.55 L245.55,33.95 L246.58,35.46 L247.61,37.08 L248.65,38.77 L249.68,40.49 L250.72,42.21 L251.75,43.90 L252.78,45.55 L253.82,47.19 L254.85,48.84 L255.88,50.50 L256.92,52.16 L257.95,53.82 L258.99,55.51 L260.02,57.23 L261.05,58.97 L262.09,60.70 L263.12,62.42 L264.16,64.11 L265.19,65.75 L266.22,67.34 L267.26,68.89 L268.29,70.42 L269.32,71.92 L270.36,73.41 L271.39,74.86 L272.43,76.29 L273.46,77.69 L274.49,79.06 L275.53,80.40 L276.56,81.70 L277.59,82.98 L278.63,84.24 L279.66,85.47 L280.70,86.68 L281.73,87.86 L282.76,89.02 L283.80,90.16 L284.83,91.27 L285.87,92.36 L286.90,93.43 L287.93,94.49 L288.97,95.54 L290.00,96.56 L291.03,97.57 L292.07,98.55 L293.10,99.50 L294.14,100.42 L295.17,101.31 L296.20,102.17 L297.24,102.99 L298.27,103.80 L299.31,104.58 L300.34,105.35 L301.37,106.10 L302.41,106.83 L303.44,107.55 L304.47,108.25 L305.51,108.94 L306.54,109.61 L307.58,110.28 L308.61,110.93 L309.64,111.58 L310.68,112.22 L311.71,112.85 L312.74,113.47 L313.78,114.08 L314.81,114.69 L315.85,115.28 L316.88,115.87 L317.91,116.44 L318.95,117.01 L319.98,117.57 L321.02,118.12 L322.05,118.65 L323.08,119.18 L324.12,119.69 L325.15,120.20 L326.18,120.69 L327.22,121.17 L328.25,121.65 L329.29,122.13 L330.32,122.60 L331.35,123.06 L332.39,123.52 L333.42,123.96 L334.45,124.40 L335.49,124.82 L336.52,125.24 L337.56,125.64 L338.59,126.03 L339.62,126.40 L340.66,126.76 L341.69,127.10 L342.73,127.42 L343.76,127.72 L344.79,127.99 L345.83,128.26 L346.86,128.50 L347.89,128.71 L348.93,128.93 L349.96,129.19 L351.00,129.49 L352.03,129.92 L353.06,130.76 L354.10,132.47 L355.13,135.73 L356.16,140.82 L357.20,146.31 L358.23,151.67 L359.27,156.85 L360.30,162.50" stroke="#118040" stroke-width="2.6" fill="none" stroke-linejoin="round" stroke-linecap="butt" />
<rect x="321.0" y="8.9" width="36.0" height="32.1" fill="#000"/>
<rect x="319.4" y="7.3" width="36.0" height="32.1" fill="#fff" stroke="#444" stroke-width="0.9"/>
<text x="334.9" y="28.4" font-size="20" text-anchor="middle" fill="#111" stroke="#111" stroke-width="0.55">T</text>
<text x="340.0" y="33.2" font-size="15" text-anchor="middle" fill="#111" stroke="#111" stroke-width="0.4">i</text>
<rect x="345.0" y="162.0" width="15.600000000000023" height="14.0" fill="#fff" stroke="#333" stroke-width="0.9"/>
<text x="352.80" y="173.60" font-size="12.5" text-anchor="middle" fill="#1a1a1a" textLength="7.6" lengthAdjust="spacingAndGlyphs" stroke="#1a1a1a" stroke-width="0.25">B</text>
<text transform="translate(196.6,90.2) rotate(-90)" font-size="13" text-anchor="middle" fill="#111" textLength="18.6" lengthAdjust="spacingAndGlyphs" stroke="#111" stroke-width="0.45">keV</text>
<path d="M404.40,176.2v3.6M404.40,3.4v-3.6M407.28,176.2v2.4M407.28,3.4v-2.4M410.16,176.2v2.4M410.16,3.4v-2.4M413.05,176.2v2.4M413.05,3.4v-2.4M415.93,176.2v2.4M415.93,3.4v-2.4M418.81,176.2v2.4M418.81,3.4v-2.4M421.69,176.2v2.4M421.69,3.4v-2.4M424.57,176.2v2.4M424.57,3.4v-2.4M427.46,176.2v2.4M427.46,3.4v-2.4M430.34,176.2v2.4M430.34,3.4v-2.4M433.22,176.2v3.6M433.22,3.4v-3.6M436.10,176.2v2.4M436.10,3.4v-2.4M438.98,176.2v2.4M438.98,3.4v-2.4M441.87,176.2v2.4M441.87,3.4v-2.4M444.75,176.2v2.4M444.75,3.4v-2.4M447.63,176.2v2.4M447.63,3.4v-2.4M450.51,176.2v2.4M450.51,3.4v-2.4M453.39,176.2v2.4M453.39,3.4v-2.4M456.28,176.2v2.4M456.28,3.4v-2.4M459.16,176.2v2.4M459.16,3.4v-2.4M462.04,176.2v3.6M462.04,3.4v-3.6M464.92,176.2v2.4M464.92,3.4v-2.4M467.80,176.2v2.4M467.80,3.4v-2.4M470.69,176.2v2.4M470.69,3.4v-2.4M473.57,176.2v2.4M473.57,3.4v-2.4M476.45,176.2v2.4M476.45,3.4v-2.4M479.33,176.2v2.4M479.33,3.4v-2.4M482.21,176.2v2.4M482.21,3.4v-2.4M485.10,176.2v2.4M485.10,3.4v-2.4M487.98,176.2v2.4M487.98,3.4v-2.4M490.86,176.2v3.6M490.86,3.4v-3.6M493.74,176.2v2.4M493.74,3.4v-2.4M496.62,176.2v2.4M496.62,3.4v-2.4M499.51,176.2v2.4M499.51,3.4v-2.4M502.39,176.2v2.4M502.39,3.4v-2.4M505.27,176.2v2.4M505.27,3.4v-2.4M508.15,176.2v2.4M508.15,3.4v-2.4M511.03,176.2v2.4M511.03,3.4v-2.4M513.92,176.2v2.4M513.92,3.4v-2.4M516.80,176.2v2.4M516.80,3.4v-2.4M519.68,176.2v3.6M519.68,3.4v-3.6M522.56,176.2v2.4M522.56,3.4v-2.4M525.44,176.2v2.4M525.44,3.4v-2.4M528.33,176.2v2.4M528.33,3.4v-2.4M531.21,176.2v2.4M531.21,3.4v-2.4M534.09,176.2v2.4M534.09,3.4v-2.4M536.97,176.2v2.4M536.97,3.4v-2.4M539.85,176.2v2.4M539.85,3.4v-2.4M542.74,176.2v2.4M542.74,3.4v-2.4M545.62,176.2v2.4M545.62,3.4v-2.4M548.50,176.2v3.6M548.50,3.4v-3.6M404.4,175.50h-3.3M548.5,175.50h3.3M404.4,169.30h-2.1M548.5,169.30h2.1M404.4,163.10h-2.1M548.5,163.10h2.1M404.4,156.90h-2.1M548.5,156.90h2.1M404.4,150.70h-3.3M548.5,150.70h3.3M404.4,144.50h-2.1M548.5,144.50h2.1M404.4,138.30h-2.1M548.5,138.30h2.1M404.4,132.10h-2.1M548.5,132.10h2.1M404.4,125.90h-3.3M548.5,125.90h3.3M404.4,119.70h-2.1M548.5,119.70h2.1M404.4,113.50h-2.1M548.5,113.50h2.1M404.4,107.30h-2.1M548.5,107.30h2.1M404.4,101.10h-3.3M548.5,101.10h3.3M404.4,94.90h-2.1M548.5,94.90h2.1M404.4,88.70h-2.1M548.5,88.70h2.1M404.4,82.50h-2.1M548.5,82.50h2.1M404.4,76.30h-3.3M548.5,76.30h3.3M404.4,70.10h-2.1M548.5,70.10h2.1M404.4,63.90h-2.1M548.5,63.90h2.1M404.4,57.70h-2.1M548.5,57.70h2.1M404.4,51.50h-3.3M548.5,51.50h3.3M404.4,45.30h-2.1M548.5,45.30h2.1M404.4,39.10h-2.1M548.5,39.10h2.1M404.4,32.90h-2.1M548.5,32.90h2.1M404.4,26.70h-3.3M548.5,26.70h3.3M404.4,20.50h-2.1M548.5,20.50h2.1M404.4,14.30h-2.1M548.5,14.30h2.1M404.4,8.10h-2.1M548.5,8.10h2.1" stroke="#2a2a2a" stroke-width="1.0" fill="none"/>
<rect x="404.4" y="3.4" width="144.10000000000002" height="172.79999999999998" fill="none" stroke="#2a2a2a" stroke-width="1.05"/>
<text x="404.40" y="187.70" font-size="9.7" text-anchor="middle" fill="#111" textLength="12.8" lengthAdjust="spacingAndGlyphs" stroke="#111" stroke-width="0.35">0.0</text>
<text x="433.22" y="187.70" font-size="9.7" text-anchor="middle" fill="#111" textLength="12.8" lengthAdjust="spacingAndGlyphs" stroke="#111" stroke-width="0.35">0.2</text>
<text x="462.04" y="187.70" font-size="9.7" text-anchor="middle" fill="#111" textLength="12.8" lengthAdjust="spacingAndGlyphs" stroke="#111" stroke-width="0.35">0.4</text>
<text x="490.86" y="187.70" font-size="9.7" text-anchor="middle" fill="#111" textLength="12.8" lengthAdjust="spacingAndGlyphs" stroke="#111" stroke-width="0.35">0.6</text>
<text x="519.68" y="187.70" font-size="9.7" text-anchor="middle" fill="#111" textLength="12.8" lengthAdjust="spacingAndGlyphs" stroke="#111" stroke-width="0.35">0.8</text>
<text x="548.50" y="187.70" font-size="9.7" text-anchor="middle" fill="#111" textLength="12.8" lengthAdjust="spacingAndGlyphs" stroke="#111" stroke-width="0.35">1.0</text>
<text x="399.80" y="177.40" font-size="9.7" text-anchor="end" fill="#111" textLength="12.3" lengthAdjust="spacingAndGlyphs" stroke="#111" stroke-width="0.35">0.0</text>
<text x="399.80" y="129.20" font-size="9.7" text-anchor="end" fill="#111" textLength="12.3" lengthAdjust="spacingAndGlyphs" stroke="#111" stroke-width="0.35">0.4</text>
<text x="399.80" y="78.50" font-size="9.7" text-anchor="end" fill="#111" textLength="12.3" lengthAdjust="spacingAndGlyphs" stroke="#111" stroke-width="0.35">0.8</text>
<text x="399.80" y="29.70" font-size="9.7" text-anchor="end" fill="#111" textLength="11.3" lengthAdjust="spacingAndGlyphs" stroke="#111" stroke-width="0.35">1.2</text>
<path d="M404.40,9.10 L406.05,9.23 L407.71,9.40 L409.36,9.58 L411.01,9.78 L412.67,9.99 L414.32,10.22 L415.97,10.45 L417.63,10.71 L419.28,11.00 L420.93,11.30 L422.58,11.62 L424.24,11.96 L425.89,12.33 L427.54,12.74 L429.20,13.18 L430.85,13.65 L432.50,14.14 L434.16,14.65 L435.81,15.18 L437.46,15.70 L439.12,16.22 L440.77,16.72 L442.42,17.19 L444.08,17.63 L445.73,18.05 L447.38,18.47 L449.04,18.90 L450.69,19.34 L452.34,19.80 L453.99,20.29 L455.65,20.80 L457.30,21.35 L458.95,21.95 L460.61,22.61 L462.26,23.33 L463.91,24.13 L465.57,25.04 L467.22,26.12 L468.87,27.34 L470.53,28.68 L472.18,30.07 L473.83,31.50 L475.49,33.01 L477.14,34.57 L478.79,36.17 L480.45,37.79 L482.10,39.39 L483.75,40.98 L485.41,42.57 L487.06,44.14 L488.71,45.66 L490.36,47.14 L492.02,48.60 L493.67,50.04 L495.32,51.48 L496.98,52.91 L498.63,54.31 L500.28,55.69 L501.94,57.04 L503.59,58.37 L505.24,59.68 L506.90,60.97 L508.55,62.21 L510.20,63.39 L511.86,64.48 L513.51,65.52 L515.16,66.51 L516.82,67.46 L518.47,68.37 L520.12,69.26 L521.77,70.12 L523.43,70.95 L525.08,71.76 L526.73,72.49 L528.39,73.22 L530.04,74.02 L531.69,74.95 L533.35,76.04 L535.00,77.33" stroke="#3a4fb0" stroke-width="0.8" fill="none" stroke-linejoin="round" stroke-linecap="butt" />
<path d="M404.40,13.30 L406.05,13.42 L407.71,13.57 L409.36,13.74 L411.01,13.92 L412.67,14.12 L414.32,14.33 L415.97,14.55 L417.63,14.79 L419.28,15.05 L420.93,15.34 L422.58,15.64 L424.24,15.96 L425.89,16.31 L427.54,16.70 L429.20,17.11 L430.85,17.55 L432.50,18.02 L434.16,18.50 L435.81,19.00 L437.46,19.50 L439.12,19.99 L440.77,20.46 L442.42,20.92 L444.08,21.33 L445.73,21.73 L447.38,22.14 L449.04,22.56 L450.69,22.99 L452.34,23.45 L453.99,23.93 L455.65,24.43 L457.30,24.98 L458.95,25.56 L460.61,26.20 L462.26,26.90 L463.91,27.67 L465.57,28.55 L467.22,29.57 L468.87,30.69 L470.53,31.88 L472.18,33.10 L473.83,34.32 L475.49,35.59 L477.14,36.92 L478.79,38.27 L480.45,39.64 L482.10,41.01 L483.75,42.39 L485.41,43.78 L487.06,45.18 L488.71,46.58 L490.36,47.96 L492.02,49.33 L493.67,50.70 L495.32,52.07 L496.98,53.43 L498.63,54.78 L500.28,56.10 L501.94,57.40 L503.59,58.69 L505.24,59.97 L506.90,61.22 L508.55,62.44 L510.20,63.58 L511.86,64.66 L513.51,65.67 L515.16,66.63 L516.82,67.56 L518.47,68.45 L520.12,69.32 L521.77,70.16 L523.43,70.98 L525.08,71.77 L526.73,72.50 L528.39,73.22 L530.04,74.02 L531.69,74.95 L533.35,76.04 L535.00,77.33" stroke="#3a4fb0" stroke-width="0.8" fill="none" stroke-linejoin="round" stroke-linecap="butt" />
<path d="M404.40,15.10 L406.05,15.23 L407.71,15.38 L409.36,15.54 L411.01,15.72 L412.67,15.92 L414.32,16.12 L415.97,16.32 L417.63,16.55 L419.28,16.80 L420.93,17.07 L422.58,17.35 L424.24,17.65 L425.89,17.98 L427.54,18.32 L429.20,18.69 L430.85,19.07 L432.50,19.47 L434.16,19.90 L435.81,20.34 L437.46,20.78 L439.12,21.23 L440.77,21.68 L442.42,22.11 L444.08,22.53 L445.73,22.95 L447.38,23.37 L449.04,23.81 L450.69,24.27 L452.34,24.75 L453.99,25.25 L455.65,25.78 L457.30,26.35 L458.95,26.95 L460.61,27.60 L462.26,28.31 L463.91,29.08 L465.57,29.96 L467.22,30.96 L468.87,32.06 L470.53,33.21 L472.18,34.38 L473.83,35.55 L475.49,36.77 L477.14,38.03 L478.79,39.32 L480.45,40.63 L482.10,41.94 L483.75,43.25 L485.41,44.59 L487.06,45.93 L488.71,47.28 L490.36,48.63 L492.02,49.97 L493.67,51.30 L495.32,52.64 L496.98,53.97 L498.63,55.29 L500.28,56.59 L501.94,57.86 L503.59,59.12 L505.24,60.37 L506.90,61.59 L508.55,62.77 L510.20,63.88 L511.86,64.91 L513.51,65.88 L515.16,66.81 L516.82,67.71 L518.47,68.57 L520.12,69.41 L521.77,70.22 L523.43,71.02 L525.08,71.80 L526.73,72.51 L528.39,73.22 L530.04,74.02 L531.69,74.95 L533.35,76.04 L535.00,77.33" stroke="#3a4fb0" stroke-width="0.8" fill="none" stroke-linejoin="round" stroke-linecap="butt" />
<path d="M404.40,16.50 L406.05,16.62 L407.71,16.76 L409.36,16.92 L411.01,17.09 L412.67,17.27 L414.32,17.47 L415.97,17.67 L417.63,17.89 L419.28,18.13 L420.93,18.39 L422.58,18.66 L424.24,18.95 L425.89,19.27 L427.54,19.60 L429.20,19.96 L430.85,20.33 L432.50,20.73 L434.16,21.15 L435.81,21.58 L437.46,22.02 L439.12,22.46 L440.77,22.90 L442.42,23.32 L444.08,23.73 L445.73,24.14 L447.38,24.55 L449.04,24.98 L450.69,25.42 L452.34,25.89 L453.99,26.38 L455.65,26.90 L457.30,27.46 L458.95,28.06 L460.61,28.70 L462.26,29.41 L463.91,30.18 L465.57,31.05 L467.22,32.07 L468.87,33.18 L470.53,34.36 L472.18,35.57 L473.83,36.78 L475.49,38.03 L477.14,39.34 L478.79,40.66 L480.45,42.00 L482.10,43.32 L483.75,44.64 L485.41,45.97 L487.06,47.29 L488.71,48.59 L490.36,49.88 L492.02,51.13 L493.67,52.38 L495.32,53.63 L496.98,54.86 L498.63,56.08 L500.28,57.28 L501.94,58.46 L503.59,59.63 L505.24,60.80 L506.90,61.96 L508.55,63.09 L510.20,64.18 L511.86,65.19 L513.51,66.14 L515.16,67.05 L516.82,67.92 L518.47,68.76 L520.12,69.57 L521.77,70.36 L523.43,71.14 L525.08,71.88 L526.73,72.56 L528.39,73.25 L530.04,74.02 L531.69,74.95 L533.35,76.04 L535.00,77.33" stroke="#3a4fb0" stroke-width="0.8" fill="none" stroke-linejoin="round" stroke-linecap="butt" />
<path d="M404.40,18.80 L406.05,18.94 L407.71,19.11 L409.36,19.30 L411.01,19.51 L412.67,19.72 L414.32,19.95 L415.97,20.18 L417.63,20.44 L419.28,20.72 L420.93,21.01 L422.58,21.33 L424.24,21.66 L425.89,22.02 L427.54,22.42 L429.20,22.85 L430.85,23.30 L432.50,23.77 L434.16,24.27 L435.81,24.76 L437.46,25.26 L439.12,25.75 L440.77,26.21 L442.42,26.64 L444.08,27.03 L445.73,27.40 L447.38,27.79 L449.04,28.20 L450.69,28.63 L452.34,29.08 L453.99,29.56 L455.65,30.06 L457.30,30.59 L458.95,31.16 L460.61,31.77 L462.26,32.44 L463.91,33.16 L465.57,33.97 L467.22,34.91 L468.87,35.91 L470.53,36.95 L472.18,37.99 L473.83,39.02 L475.49,40.08 L477.14,41.19 L478.79,42.31 L480.45,43.45 L482.10,44.58 L483.75,45.73 L485.41,46.90 L487.06,48.10 L488.71,49.31 L490.36,50.52 L492.02,51.71 L493.67,52.89 L495.32,54.08 L496.98,55.26 L498.63,56.42 L500.28,57.58 L501.94,58.71 L503.59,59.85 L505.24,60.99 L506.90,62.11 L508.55,63.22 L510.20,64.27 L511.86,65.27 L513.51,66.20 L515.16,67.08 L516.82,67.94 L518.47,68.76 L520.12,69.57 L521.77,70.35 L523.43,71.12 L525.08,71.87 L526.73,72.55 L528.39,73.24 L530.04,74.02 L531.69,74.95 L533.35,76.04 L535.00,77.33" stroke="#3a4fb0" stroke-width="0.8" fill="none" stroke-linejoin="round" stroke-linecap="butt" />
<path d="M404.40,23.10 L406.05,23.14 L407.71,23.20 L409.36,23.28 L411.01,23.36 L412.67,23.45 L414.32,23.55 L415.97,23.66 L417.63,23.78 L419.28,23.92 L420.93,24.08 L422.58,24.25 L424.24,24.44 L425.89,24.63 L427.54,24.84 L429.20,25.05 L430.85,25.27 L432.50,25.52 L434.16,25.78 L435.81,26.07 L437.46,26.37 L439.12,26.69 L440.77,27.02 L442.42,27.37 L444.08,27.73 L445.73,28.11 L447.38,28.52 L449.04,28.96 L450.69,29.43 L452.34,29.93 L453.99,30.46 L455.65,31.02 L457.30,31.61 L458.95,32.23 L460.61,32.90 L462.26,33.60 L463.91,34.34 L465.57,35.17 L467.22,36.10 L468.87,37.08 L470.53,38.08 L472.18,39.07 L473.83,40.04 L475.49,41.04 L477.14,42.06 L478.79,43.11 L480.45,44.17 L482.10,45.23 L483.75,46.30 L485.41,47.41 L487.06,48.55 L488.71,49.71 L490.36,50.89 L492.02,52.05 L493.67,53.20 L495.32,54.36 L496.98,55.51 L498.63,56.65 L500.28,57.78 L501.94,58.90 L503.59,60.01 L505.24,61.13 L506.90,62.24 L508.55,63.33 L510.20,64.37 L511.86,65.35 L513.51,66.27 L515.16,67.15 L516.82,67.99 L518.47,68.80 L520.12,69.60 L521.77,70.37 L523.43,71.14 L525.08,71.87 L526.73,72.55 L528.39,73.24 L530.04,74.02 L531.69,74.95 L533.35,76.04 L535.00,77.33" stroke="#3a4fb0" stroke-width="0.8" fill="none" stroke-linejoin="round" stroke-linecap="butt" />
<path d="M404.40,19.90 L405.44,19.91 L406.47,19.93 L407.51,19.96 L408.55,20.01 L409.58,20.07 L410.62,20.14 L411.66,20.21 L412.69,20.30 L413.73,20.38 L414.77,20.48 L415.80,20.59 L416.84,20.75 L417.88,20.96 L418.91,21.20 L419.95,21.47 L420.99,21.76 L422.02,22.07 L423.06,22.39 L424.10,22.72 L425.13,23.04 L426.17,23.35 L427.21,23.67 L428.24,24.00 L429.28,24.35 L430.32,24.71 L431.35,25.08 L432.39,25.46 L433.43,25.84 L434.46,26.23 L435.50,26.62 L436.54,27.01 L437.57,27.40 L438.61,27.79 L439.65,28.17 L440.68,28.55 L441.72,28.92 L442.76,29.28 L443.79,29.65 L444.83,30.01 L445.87,30.37 L446.90,30.74 L447.94,31.11 L448.98,31.48 L450.01,31.86 L451.05,32.25 L452.09,32.64 L453.12,33.04 L454.16,33.46 L455.20,33.88 L456.23,34.32 L457.27,34.78 L458.31,35.25 L459.34,35.74 L460.38,36.23 L461.42,36.73 L462.45,37.24 L463.49,37.75 L464.53,38.26 L465.56,38.79 L466.60,39.32 L467.64,39.87 L468.67,40.42 L469.71,40.97 L470.75,41.53 L471.78,42.09 L472.82,42.64 L473.86,43.20 L474.89,43.75 L475.93,44.31 L476.97,44.87 L478.01,45.43 L479.04,45.99 L480.08,46.55 L481.12,47.12 L482.15,47.68 L483.19,48.25 L484.23,48.82 L485.26,49.39 L486.30,49.97 L487.34,50.55 L488.37,51.12 L489.41,51.70 L490.45,52.29 L491.48,52.88 L492.52,53.47 L493.56,54.07 L494.59,54.68 L495.63,55.29 L496.67,55.91 L497.70,56.52 L498.74,57.13 L499.78,57.74 L500.81,58.34 L501.85,58.93 L502.89,59.50 L503.92,60.07 L504.96,60.63 L506.00,61.18 L507.03,61.73 L508.07,62.27 L509.11,62.81 L510.14,63.35 L511.18,63.88 L512.22,64.41 L513.25,64.93 L514.29,65.45 L515.33,65.96 L516.36,66.47 L517.40,66.99 L518.44,67.50 L519.47,68.03 L520.51,68.56 L521.55,69.10 L522.58,69.64 L523.62,70.18 L524.66,70.74 L525.69,71.32 L526.73,71.93 L527.77,72.58 L528.80,73.25 L529.84,73.90 L530.88,74.51 L531.91,75.11 L532.95,75.77 L533.99,76.51 L535.02,77.35 L536.06,78.36 L537.10,79.70 L538.13,81.36 L539.17,83.24 L540.21,85.40 L541.24,87.99 L542.28,91.22 L543.32,95.36 L544.35,100.21 L545.39,105.61 L546.43,111.90 L547.46,119.08 L548.50,127.00" stroke="#e52028" stroke-width="2.6" fill="none" stroke-linejoin="round" stroke-linecap="butt" />
<path d="M404.40,21.50 L405.44,21.51 L406.47,21.53 L407.51,21.55 L408.55,21.57 L409.58,21.60 L410.62,21.63 L411.66,21.67 L412.69,21.71 L413.73,21.75 L414.77,21.79 L415.80,21.84 L416.84,21.89 L417.88,21.95 L418.91,22.01 L419.95,22.08 L420.99,22.16 L422.02,22.24 L423.06,22.33 L424.10,22.42 L425.13,22.51 L426.17,22.61 L427.21,22.71 L428.24,22.82 L429.28,22.92 L430.32,23.03 L431.35,23.15 L432.39,23.27 L433.43,23.41 L434.46,23.55 L435.50,23.69 L436.54,23.85 L437.57,24.01 L438.61,24.18 L439.65,24.35 L440.68,24.52 L441.72,24.70 L442.76,24.89 L443.79,25.08 L444.83,25.27 L445.87,25.46 L446.90,25.67 L447.94,25.88 L448.98,26.10 L450.01,26.34 L451.05,26.58 L452.09,26.83 L453.12,27.09 L454.16,27.37 L455.20,27.66 L456.23,27.96 L457.27,28.27 L458.31,28.60 L459.34,28.96 L460.38,29.33 L461.42,29.72 L462.45,30.13 L463.49,30.57 L464.53,31.05 L465.56,31.57 L466.60,32.15 L467.64,32.77 L468.67,33.42 L469.71,34.09 L470.75,34.79 L471.78,35.48 L472.82,36.18 L473.86,36.88 L474.89,37.60 L475.93,38.35 L476.97,39.11 L478.01,39.88 L479.04,40.66 L480.08,41.45 L481.12,42.23 L482.15,43.01 L483.19,43.80 L484.23,44.60 L485.26,45.40 L486.30,46.21 L487.34,47.02 L488.37,47.83 L489.41,48.64 L490.45,49.44 L491.48,50.23 L492.52,51.02 L493.56,51.81 L494.59,52.60 L495.63,53.38 L496.67,54.17 L497.70,54.94 L498.74,55.72 L499.78,56.48 L500.81,57.24 L501.85,57.99 L502.89,58.74 L503.92,59.49 L504.96,60.24 L506.00,60.98 L507.03,61.72 L508.07,62.45 L509.11,63.15 L510.14,63.84 L511.18,64.50 L512.22,65.13 L513.25,65.74 L514.29,66.33 L515.33,66.90 L516.36,67.47 L517.40,68.01 L518.44,68.55 L519.47,69.08 L520.51,69.60 L521.55,70.11 L522.58,70.62 L523.62,71.12 L524.66,71.61 L525.69,72.06 L526.73,72.50 L527.77,72.95 L528.80,73.41 L529.84,73.92 L530.88,74.47 L531.91,75.09 L532.95,75.76 L533.99,76.51 L535.02,77.35 L536.06,78.36 L537.10,79.70 L538.13,81.36 L539.17,83.24 L540.21,85.40 L541.24,87.99 L542.28,91.22 L543.32,95.36 L544.35,100.21 L545.39,105.61 L546.43,111.90 L547.46,119.08 L548.50,127.00" stroke="#118040" stroke-width="2.6" fill="none" stroke-linejoin="round" stroke-linecap="butt" />
<rect x="509.1" y="8.9" width="36.0" height="31.8" fill="#000"/>
<rect x="507.5" y="7.3" width="36.0" height="31.8" fill="#fff" stroke="#444" stroke-width="0.9"/>
<text x="521.3" y="28.0" font-size="21" text-anchor="middle" fill="#111" stroke="#111" stroke-width="0.55">n</text>
<text x="529.6" y="33.3" font-size="15" text-anchor="middle" fill="#111" stroke="#111" stroke-width="0.4">e</text>
<rect x="533.0" y="162.4" width="15.5" height="13.400000000000006" fill="#fff" stroke="#333" stroke-width="0.9"/>
<text x="540.60" y="174.00" font-size="12.5" text-anchor="middle" fill="#1a1a1a" textLength="7.4" lengthAdjust="spacingAndGlyphs" stroke="#1a1a1a" stroke-width="0.25">C</text>
<text transform="translate(381.0,91.5) rotate(-90)" font-size="10.3" text-anchor="middle" fill="#111" stroke="#111" stroke-width="0.45">1e20 m<tspan font-size="7" dy="-4">-3</tspan></text>
<text x="101.35" y="197.5" font-size="12.5" text-anchor="middle" fill="#111" stroke="#111" stroke-width="0.45">ρ</text>
<text x="289.20" y="197.5" font-size="12.5" text-anchor="middle" fill="#111" stroke="#111" stroke-width="0.45">ρ</text>
<text x="476.85" y="197.5" font-size="12.5" text-anchor="middle" fill="#111" stroke="#111" stroke-width="0.45">ρ</text>
<path d="M28.70,300.5v3.6M28.70,218.2v-3.6M31.59,300.5v2.4M31.59,218.2v-2.4M34.48,300.5v2.4M34.48,218.2v-2.4M37.37,300.5v2.4M37.37,218.2v-2.4M40.26,300.5v2.4M40.26,218.2v-2.4M43.15,300.5v2.4M43.15,218.2v-2.4M46.04,300.5v2.4M46.04,218.2v-2.4M48.93,300.5v2.4M48.93,218.2v-2.4M51.82,300.5v2.4M51.82,218.2v-2.4M54.71,300.5v2.4M54.71,218.2v-2.4M57.60,300.5v3.6M57.60,218.2v-3.6M60.49,300.5v2.4M60.49,218.2v-2.4M63.38,300.5v2.4M63.38,218.2v-2.4M66.27,300.5v2.4M66.27,218.2v-2.4M69.16,300.5v2.4M69.16,218.2v-2.4M72.05,300.5v2.4M72.05,218.2v-2.4M74.94,300.5v2.4M74.94,218.2v-2.4M77.83,300.5v2.4M77.83,218.2v-2.4M80.72,300.5v2.4M80.72,218.2v-2.4M83.61,300.5v2.4M83.61,218.2v-2.4M86.50,300.5v3.6M86.50,218.2v-3.6M89.39,300.5v2.4M89.39,218.2v-2.4M92.28,300.5v2.4M92.28,218.2v-2.4M95.17,300.5v2.4M95.17,218.2v-2.4M98.06,300.5v2.4M98.06,218.2v-2.4M100.95,300.5v2.4M100.95,218.2v-2.4M103.84,300.5v2.4M103.84,218.2v-2.4M106.73,300.5v2.4M106.73,218.2v-2.4M109.62,300.5v2.4M109.62,218.2v-2.4M112.51,300.5v2.4M112.51,218.2v-2.4M115.40,300.5v3.6M115.40,218.2v-3.6M118.29,300.5v2.4M118.29,218.2v-2.4M121.18,300.5v2.4M121.18,218.2v-2.4M124.07,300.5v2.4M124.07,218.2v-2.4M126.96,300.5v2.4M126.96,218.2v-2.4M129.85,300.5v2.4M129.85,218.2v-2.4M132.74,300.5v2.4M132.74,218.2v-2.4M135.63,300.5v2.4M135.63,218.2v-2.4M138.52,300.5v2.4M138.52,218.2v-2.4M141.41,300.5v2.4M141.41,218.2v-2.4M144.30,300.5v3.6M144.30,218.2v-3.6M147.19,300.5v2.4M147.19,218.2v-2.4M150.08,300.5v2.4M150.08,218.2v-2.4M152.97,300.5v2.4M152.97,218.2v-2.4M155.86,300.5v2.4M155.86,218.2v-2.4M158.75,300.5v2.4M158.75,218.2v-2.4M161.64,300.5v2.4M161.64,218.2v-2.4M164.53,300.5v2.4M164.53,218.2v-2.4M167.42,300.5v2.4M167.42,218.2v-2.4M170.31,300.5v2.4M170.31,218.2v-2.4M173.20,300.5v3.6M173.20,218.2v-3.6M28.7,300.50h-2.8M173.2,300.50h2.8M28.7,297.26h-1.8M173.2,297.26h1.8M28.7,294.02h-1.8M173.2,294.02h1.8M28.7,290.78h-1.8M173.2,290.78h1.8M28.7,287.54h-1.8M173.2,287.54h1.8M28.7,284.30h-2.8M173.2,284.30h2.8M28.7,281.06h-1.8M173.2,281.06h1.8M28.7,277.82h-1.8M173.2,277.82h1.8M28.7,274.58h-1.8M173.2,274.58h1.8M28.7,271.34h-1.8M173.2,271.34h1.8M28.7,268.10h-2.8M173.2,268.10h2.8M28.7,264.86h-1.8M173.2,264.86h1.8M28.7,261.62h-1.8M173.2,261.62h1.8M28.7,258.38h-1.8M173.2,258.38h1.8M28.7,255.14h-1.8M173.2,255.14h1.8M28.7,251.90h-2.8M173.2,251.90h2.8M28.7,248.66h-1.8M173.2,248.66h1.8M28.7,245.42h-1.8M173.2,245.42h1.8M28.7,242.18h-1.8M173.2,242.18h1.8M28.7,238.94h-1.8M173.2,238.94h1.8M28.7,235.70h-2.8M173.2,235.70h2.8M28.7,232.46h-1.8M173.2,232.46h1.8M28.7,229.22h-1.8M173.2,229.22h1.8M28.7,225.98h-1.8M173.2,225.98h1.8M28.7,222.74h-1.8M173.2,222.74h1.8M28.7,219.50h-2.8M173.2,219.50h2.8" stroke="#2a2a2a" stroke-width="1.0" fill="none"/>
<rect x="28.7" y="218.2" width="144.5" height="82.30000000000001" fill="none" stroke="#2a2a2a" stroke-width="1.05"/>
<text x="28.70" y="314.40" font-size="9.7" text-anchor="middle" fill="#111" textLength="12.8" lengthAdjust="spacingAndGlyphs" stroke="#111" stroke-width="0.35">0.0</text>
<text x="57.60" y="314.40" font-size="9.7" text-anchor="middle" fill="#111" textLength="12.8" lengthAdjust="spacingAndGlyphs" stroke="#111" stroke-width="0.35">0.2</text>
<text x="86.50" y="314.40" font-size="9.7" text-anchor="middle" fill="#111" textLength="12.8" lengthAdjust="spacingAndGlyphs" stroke="#111" stroke-width="0.35">0.4</text>
<text x="115.40" y="314.40" font-size="9.7" text-anchor="middle" fill="#111" textLength="12.8" lengthAdjust="spacingAndGlyphs" stroke="#111" stroke-width="0.35">0.6</text>
<text x="144.30" y="314.40" font-size="9.7" text-anchor="middle" fill="#111" textLength="12.8" lengthAdjust="spacingAndGlyphs" stroke="#111" stroke-width="0.35">0.8</text>
<text x="173.20" y="314.40" font-size="9.7" text-anchor="middle" fill="#111" textLength="12.8" lengthAdjust="spacingAndGlyphs" stroke="#111" stroke-width="0.35">1.0</text>
<text x="24.20" y="303.30" font-size="9.7" text-anchor="end" fill="#111" textLength="12.3" lengthAdjust="spacingAndGlyphs" stroke="#111" stroke-width="0.35">0.0</text>
<text x="24.20" y="271.80" font-size="9.7" text-anchor="end" fill="#111" textLength="11.3" lengthAdjust="spacingAndGlyphs" stroke="#111" stroke-width="0.35">1.0</text>
<text x="24.20" y="239.10" font-size="9.7" text-anchor="end" fill="#111" textLength="12.3" lengthAdjust="spacingAndGlyphs" stroke="#111" stroke-width="0.35">2.0</text>
<path d="M28.70,300.50 L72.92,242.18 L99.07,229.22 L126.96,234.08 L139.97,248.01 L152.97,271.34" stroke="#1e1e2a" stroke-width="0.7" fill="none" stroke-linejoin="round" stroke-linecap="butt" />
<path d="M28.70,300.50 L72.92,242.83 L99.07,231.81 L126.96,235.70 L139.97,246.72 L152.97,272.96" stroke="#1e1e2a" stroke-width="0.7" fill="none" stroke-linejoin="round" stroke-linecap="butt" />
<path d="M28.70,300.50 L72.92,245.42 L99.07,230.52 L126.96,232.46 L139.97,245.42 L152.97,269.72" stroke="#3a4fb0" stroke-width="0.7" fill="none" stroke-linejoin="round" stroke-linecap="butt" />
<path d="M28.70,300.50 L72.92,248.66 L99.07,231.81 L126.96,237.32 L139.97,250.28 L152.97,274.58" stroke="#3a4fb0" stroke-width="0.7" fill="none" stroke-linejoin="round" stroke-linecap="butt" />
<path d="M28.70,300.50 L72.92,250.28 L99.07,234.08 L126.96,236.35 L139.97,248.66 L152.97,277.82" stroke="#3a4fb0" stroke-width="0.7" fill="none" stroke-linejoin="round" stroke-linecap="butt" />
<path d="M28.70,300.50 L72.92,251.90 L99.07,232.46 L126.96,235.05 L139.97,247.04 L152.97,271.99" stroke="#3a4fb0" stroke-width="0.7" fill="none" stroke-linejoin="round" stroke-linecap="butt" />
<path d="M28.70,300.50 L72.92,255.14 L99.07,235.05 L126.96,238.94 L139.97,249.31 L152.97,276.20" stroke="#3a4fb0" stroke-width="0.7" fill="none" stroke-linejoin="round" stroke-linecap="butt" />
<path d="M28.70,300.50 L72.92,261.62 L99.07,237.32 L126.96,222.74 L139.97,248.66 L152.97,281.06" stroke="#3a4fb0" stroke-width="0.7" fill="none" stroke-linejoin="round" stroke-linecap="butt" />
<path d="M28.70,300.50 L72.92,264.86 L99.07,232.46 L126.96,230.84 L139.97,227.28 L152.97,274.58" stroke="#3a4fb0" stroke-width="0.7" fill="none" stroke-linejoin="round" stroke-linecap="butt" />
<path d="M28.70,300.50 L73.50,257.08 L99.07,237.64 L126.53,226.63 L152.97,267.45" stroke="#e52028" stroke-width="3" fill="none" stroke-linejoin="round" stroke-linecap="butt" />
<path d="M28.70,300.50 L72.92,251.90 L99.07,226.63 L126.96,237.00 L139.97,248.01 L152.97,275.55" stroke="#118040" stroke-width="3" fill="none" stroke-linejoin="round" stroke-linecap="butt" />
<rect x="157.4" y="287.4" width="15.799999999999983" height="13.100000000000023" fill="#fff" stroke="#333" stroke-width="0.9"/>
<text x="165.50" y="298.80" font-size="12.5" text-anchor="middle" fill="#1a1a1a" textLength="7.6" lengthAdjust="spacingAndGlyphs" stroke="#1a1a1a" stroke-width="0.25">D</text>
<text transform="translate(7.1,258.7) rotate(-90)" font-size="9.5" text-anchor="middle" fill="#1a1a1a" stroke="#1a1a1a" stroke-width="0.2">a/L<tspan font-size="7.5" dy="2.5">Te</tspan></text>
<path d="M216.30,300.5v3.6M216.30,218.2v-3.6M219.19,300.5v2.4M219.19,218.2v-2.4M222.07,300.5v2.4M222.07,218.2v-2.4M224.96,300.5v2.4M224.96,218.2v-2.4M227.84,300.5v2.4M227.84,218.2v-2.4M230.73,300.5v2.4M230.73,218.2v-2.4M233.62,300.5v2.4M233.62,218.2v-2.4M236.50,300.5v2.4M236.50,218.2v-2.4M239.39,300.5v2.4M239.39,218.2v-2.4M242.27,300.5v2.4M242.27,218.2v-2.4M245.16,300.5v3.6M245.16,218.2v-3.6M248.05,300.5v2.4M248.05,218.2v-2.4M250.93,300.5v2.4M250.93,218.2v-2.4M253.82,300.5v2.4M253.82,218.2v-2.4M256.70,300.5v2.4M256.70,218.2v-2.4M259.59,300.5v2.4M259.59,218.2v-2.4M262.48,300.5v2.4M262.48,218.2v-2.4M265.36,300.5v2.4M265.36,218.2v-2.4M268.25,300.5v2.4M268.25,218.2v-2.4M271.13,300.5v2.4M271.13,218.2v-2.4M274.02,300.5v3.6M274.02,218.2v-3.6M276.91,300.5v2.4M276.91,218.2v-2.4M279.79,300.5v2.4M279.79,218.2v-2.4M282.68,300.5v2.4M282.68,218.2v-2.4M285.56,300.5v2.4M285.56,218.2v-2.4M288.45,300.5v2.4M288.45,218.2v-2.4M291.34,300.5v2.4M291.34,218.2v-2.4M294.22,300.5v2.4M294.22,218.2v-2.4M297.11,300.5v2.4M297.11,218.2v-2.4M299.99,300.5v2.4M299.99,218.2v-2.4M302.88,300.5v3.6M302.88,218.2v-3.6M305.77,300.5v2.4M305.77,218.2v-2.4M308.65,300.5v2.4M308.65,218.2v-2.4M311.54,300.5v2.4M311.54,218.2v-2.4M314.42,300.5v2.4M314.42,218.2v-2.4M317.31,300.5v2.4M317.31,218.2v-2.4M320.20,300.5v2.4M320.20,218.2v-2.4M323.08,300.5v2.4M323.08,218.2v-2.4M325.97,300.5v2.4M325.97,218.2v-2.4M328.85,300.5v2.4M328.85,218.2v-2.4M331.74,300.5v3.6M331.74,218.2v-3.6M334.63,300.5v2.4M334.63,218.2v-2.4M337.51,300.5v2.4M337.51,218.2v-2.4M340.40,300.5v2.4M340.40,218.2v-2.4M343.28,300.5v2.4M343.28,218.2v-2.4M346.17,300.5v2.4M346.17,218.2v-2.4M349.06,300.5v2.4M349.06,218.2v-2.4M351.94,300.5v2.4M351.94,218.2v-2.4M354.83,300.5v2.4M354.83,218.2v-2.4M357.71,300.5v2.4M357.71,218.2v-2.4M360.60,300.5v3.6M360.60,218.2v-3.6M216.3,300.50h-2.8M360.6,300.50h2.8M216.3,296.56h-1.8M360.6,296.56h1.8M216.3,292.62h-1.8M360.6,292.62h1.8M216.3,288.68h-1.8M360.6,288.68h1.8M216.3,284.74h-1.8M360.6,284.74h1.8M216.3,280.80h-2.8M360.6,280.80h2.8M216.3,276.86h-1.8M360.6,276.86h1.8M216.3,272.92h-1.8M360.6,272.92h1.8M216.3,268.98h-1.8M360.6,268.98h1.8M216.3,265.04h-1.8M360.6,265.04h1.8M216.3,261.10h-2.8M360.6,261.10h2.8M216.3,257.16h-1.8M360.6,257.16h1.8M216.3,253.22h-1.8M360.6,253.22h1.8M216.3,249.28h-1.8M360.6,249.28h1.8M216.3,245.34h-1.8M360.6,245.34h1.8M216.3,241.40h-2.8M360.6,241.40h2.8M216.3,237.46h-1.8M360.6,237.46h1.8M216.3,233.52h-1.8M360.6,233.52h1.8M216.3,229.58h-1.8M360.6,229.58h1.8M216.3,225.64h-1.8M360.6,225.64h1.8M216.3,221.70h-2.8M360.6,221.70h2.8" stroke="#2a2a2a" stroke-width="1.0" fill="none"/>
<rect x="216.3" y="218.2" width="144.3" height="82.30000000000001" fill="none" stroke="#2a2a2a" stroke-width="1.05"/>
<text x="216.30" y="314.40" font-size="9.7" text-anchor="middle" fill="#111" textLength="12.8" lengthAdjust="spacingAndGlyphs" stroke="#111" stroke-width="0.35">0.0</text>
<text x="245.16" y="314.40" font-size="9.7" text-anchor="middle" fill="#111" textLength="12.8" lengthAdjust="spacingAndGlyphs" stroke="#111" stroke-width="0.35">0.2</text>
<text x="274.02" y="314.40" font-size="9.7" text-anchor="middle" fill="#111" textLength="12.8" lengthAdjust="spacingAndGlyphs" stroke="#111" stroke-width="0.35">0.4</text>
<text x="302.88" y="314.40" font-size="9.7" text-anchor="middle" fill="#111" textLength="12.8" lengthAdjust="spacingAndGlyphs" stroke="#111" stroke-width="0.35">0.6</text>
<text x="331.74" y="314.40" font-size="9.7" text-anchor="middle" fill="#111" textLength="12.8" lengthAdjust="spacingAndGlyphs" stroke="#111" stroke-width="0.35">0.8</text>
<text x="360.60" y="314.40" font-size="9.7" text-anchor="middle" fill="#111" textLength="12.8" lengthAdjust="spacingAndGlyphs" stroke="#111" stroke-width="0.35">1.0</text>
<text x="211.60" y="303.10" font-size="9.7" text-anchor="end" fill="#111" textLength="12.3" lengthAdjust="spacingAndGlyphs" stroke="#111" stroke-width="0.35">0.0</text>
<text x="211.60" y="264.20" font-size="9.7" text-anchor="end" fill="#111" textLength="11.3" lengthAdjust="spacingAndGlyphs" stroke="#111" stroke-width="0.35">1.0</text>
<text x="211.60" y="225.70" font-size="9.7" text-anchor="end" fill="#111" textLength="12.3" lengthAdjust="spacingAndGlyphs" stroke="#111" stroke-width="0.35">2.0</text>
<path d="M216.30,300.50 L261.18,226.43 L286.57,236.67 L314.42,243.37 L327.41,247.31 L340.40,249.28" stroke="#3a4fb0" stroke-width="0.7" fill="none" stroke-linejoin="round" stroke-linecap="butt" />
<path d="M216.30,300.50 L261.18,228.40 L286.57,239.43 L314.42,245.34 L327.41,249.28 L340.40,246.13" stroke="#3a4fb0" stroke-width="0.7" fill="none" stroke-linejoin="round" stroke-linecap="butt" />
<path d="M216.30,300.50 L261.18,230.37 L286.57,233.52 L314.42,244.55 L327.41,246.13 L340.40,251.25" stroke="#3a4fb0" stroke-width="0.7" fill="none" stroke-linejoin="round" stroke-linecap="butt" />
<path d="M216.30,300.50 L261.18,232.34 L286.57,241.40 L314.42,247.31 L327.41,250.07 L340.40,245.34" stroke="#3a4fb0" stroke-width="0.7" fill="none" stroke-linejoin="round" stroke-linecap="butt" />
<path d="M216.30,300.50 L261.18,234.31 L286.57,238.25 L314.42,242.58 L327.41,245.34 L340.40,253.22" stroke="#3a4fb0" stroke-width="0.7" fill="none" stroke-linejoin="round" stroke-linecap="butt" />
<path d="M216.30,300.50 L261.18,236.67 L286.57,240.61 L314.42,246.13 L327.41,248.10 L340.40,247.31" stroke="#3a4fb0" stroke-width="0.7" fill="none" stroke-linejoin="round" stroke-linecap="butt" />
<path d="M216.30,300.50 L261.18,238.64 L286.57,235.49 L314.42,248.49 L327.41,246.92 L340.40,250.07" stroke="#3a4fb0" stroke-width="0.7" fill="none" stroke-linejoin="round" stroke-linecap="butt" />
<path d="M216.30,300.50 L261.18,246.13 L286.57,242.19 L314.42,240.61 L327.41,244.55 L340.40,248.49" stroke="#3a4fb0" stroke-width="0.7" fill="none" stroke-linejoin="round" stroke-linecap="butt" />
<path d="M216.30,300.50 L261.18,260.71 L286.57,244.16 L314.42,226.82 L327.41,242.58 L340.40,255.19" stroke="#3a4fb0" stroke-width="0.7" fill="none" stroke-linejoin="round" stroke-linecap="butt" />
<path d="M216.30,300.50 L261.18,229.58 L286.57,237.46 L314.42,244.16 L327.41,246.92 L340.40,248.10" stroke="#1e1e2a" stroke-width="0.7" fill="none" stroke-linejoin="round" stroke-linecap="butt" />
<path d="M216.30,300.50 L261.18,244.16 L286.57,241.40 L314.42,233.13 L326.69,239.82 L340.83,243.37" stroke="#e52028" stroke-width="3" fill="none" stroke-linejoin="round" stroke-linecap="butt" />
<path d="M216.30,300.50 L261.18,223.28 L286.57,242.19 L314.42,246.13 L327.41,248.49 L340.40,245.73" stroke="#118040" stroke-width="3" fill="none" stroke-linejoin="round" stroke-linecap="butt" />
<rect x="345.0" y="287.4" width="15.600000000000023" height="13.100000000000023" fill="#fff" stroke="#333" stroke-width="0.9"/>
<text x="352.50" y="298.80" font-size="12.5" text-anchor="middle" fill="#1a1a1a" textLength="6.6" lengthAdjust="spacingAndGlyphs" stroke="#1a1a1a" stroke-width="0.25">E</text>
<text transform="translate(192.3,260.75) rotate(-90)" font-size="9.5" text-anchor="middle" fill="#1a1a1a" stroke="#1a1a1a" stroke-width="0.2">a/L<tspan font-size="7.5" dy="2.5">Ti</tspan></text>
<path d="M404.50,300.5v3.6M404.50,218.2v-3.6M407.38,300.5v2.4M407.38,218.2v-2.4M410.26,300.5v2.4M410.26,218.2v-2.4M413.14,300.5v2.4M413.14,218.2v-2.4M416.02,300.5v2.4M416.02,218.2v-2.4M418.90,300.5v2.4M418.90,218.2v-2.4M421.78,300.5v2.4M421.78,218.2v-2.4M424.66,300.5v2.4M424.66,218.2v-2.4M427.54,300.5v2.4M427.54,218.2v-2.4M430.42,300.5v2.4M430.42,218.2v-2.4M433.30,300.5v3.6M433.30,218.2v-3.6M436.18,300.5v2.4M436.18,218.2v-2.4M439.06,300.5v2.4M439.06,218.2v-2.4M441.94,300.5v2.4M441.94,218.2v-2.4M444.82,300.5v2.4M444.82,218.2v-2.4M447.70,300.5v2.4M447.70,218.2v-2.4M450.58,300.5v2.4M450.58,218.2v-2.4M453.46,300.5v2.4M453.46,218.2v-2.4M456.34,300.5v2.4M456.34,218.2v-2.4M459.22,300.5v2.4M459.22,218.2v-2.4M462.10,300.5v3.6M462.10,218.2v-3.6M464.98,300.5v2.4M464.98,218.2v-2.4M467.86,300.5v2.4M467.86,218.2v-2.4M470.74,300.5v2.4M470.74,218.2v-2.4M473.62,300.5v2.4M473.62,218.2v-2.4M476.50,300.5v2.4M476.50,218.2v-2.4M479.38,300.5v2.4M479.38,218.2v-2.4M482.26,300.5v2.4M482.26,218.2v-2.4M485.14,300.5v2.4M485.14,218.2v-2.4M488.02,300.5v2.4M488.02,218.2v-2.4M490.90,300.5v3.6M490.90,218.2v-3.6M493.78,300.5v2.4M493.78,218.2v-2.4M496.66,300.5v2.4M496.66,218.2v-2.4M499.54,300.5v2.4M499.54,218.2v-2.4M502.42,300.5v2.4M502.42,218.2v-2.4M505.30,300.5v2.4M505.30,218.2v-2.4M508.18,300.5v2.4M508.18,218.2v-2.4M511.06,300.5v2.4M511.06,218.2v-2.4M513.94,300.5v2.4M513.94,218.2v-2.4M516.82,300.5v2.4M516.82,218.2v-2.4M519.70,300.5v3.6M519.70,218.2v-3.6M522.58,300.5v2.4M522.58,218.2v-2.4M525.46,300.5v2.4M525.46,218.2v-2.4M528.34,300.5v2.4M528.34,218.2v-2.4M531.22,300.5v2.4M531.22,218.2v-2.4M534.10,300.5v2.4M534.10,218.2v-2.4M536.98,300.5v2.4M536.98,218.2v-2.4M539.86,300.5v2.4M539.86,218.2v-2.4M542.74,300.5v2.4M542.74,218.2v-2.4M545.62,300.5v2.4M545.62,218.2v-2.4M548.50,300.5v3.6M548.50,218.2v-3.6M404.5,300.50h-2.8M548.5,300.50h2.8M404.5,297.27h-1.8M548.5,297.27h1.8M404.5,294.04h-1.8M548.5,294.04h1.8M404.5,290.81h-1.8M548.5,290.81h1.8M404.5,287.58h-2.8M548.5,287.58h2.8M404.5,284.35h-1.8M548.5,284.35h1.8M404.5,281.12h-1.8M548.5,281.12h1.8M404.5,277.89h-1.8M548.5,277.89h1.8M404.5,274.66h-2.8M548.5,274.66h2.8M404.5,271.43h-1.8M548.5,271.43h1.8M404.5,268.20h-1.8M548.5,268.20h1.8M404.5,264.97h-1.8M548.5,264.97h1.8M404.5,261.74h-2.8M548.5,261.74h2.8M404.5,258.51h-1.8M548.5,258.51h1.8M404.5,255.28h-1.8M548.5,255.28h1.8M404.5,252.05h-1.8M548.5,252.05h1.8M404.5,248.82h-2.8M548.5,248.82h2.8M404.5,245.59h-1.8M548.5,245.59h1.8M404.5,242.36h-1.8M548.5,242.36h1.8M404.5,239.13h-1.8M548.5,239.13h1.8M404.5,235.90h-2.8M548.5,235.90h2.8M404.5,232.67h-1.8M548.5,232.67h1.8M404.5,229.44h-1.8M548.5,229.44h1.8M404.5,226.21h-1.8M548.5,226.21h1.8M404.5,222.98h-2.8M548.5,222.98h2.8M404.5,219.75h-1.8M548.5,219.75h1.8" stroke="#2a2a2a" stroke-width="1.0" fill="none"/>
<rect x="404.5" y="218.2" width="144.0" height="82.30000000000001" fill="none" stroke="#2a2a2a" stroke-width="1.05"/>
<text x="404.50" y="314.40" font-size="9.7" text-anchor="middle" fill="#111" textLength="12.8" lengthAdjust="spacingAndGlyphs" stroke="#111" stroke-width="0.35">0.0</text>
<text x="433.30" y="314.40" font-size="9.7" text-anchor="middle" fill="#111" textLength="12.8" lengthAdjust="spacingAndGlyphs" stroke="#111" stroke-width="0.35">0.2</text>
<text x="462.10" y="314.40" font-size="9.7" text-anchor="middle" fill="#111" textLength="12.8" lengthAdjust="spacingAndGlyphs" stroke="#111" stroke-width="0.35">0.4</text>
<text x="490.90" y="314.40" font-size="9.7" text-anchor="middle" fill="#111" textLength="12.8" lengthAdjust="spacingAndGlyphs" stroke="#111" stroke-width="0.35">0.6</text>
<text x="519.70" y="314.40" font-size="9.7" text-anchor="middle" fill="#111" textLength="12.8" lengthAdjust="spacingAndGlyphs" stroke="#111" stroke-width="0.35">0.8</text>
<text x="548.50" y="314.40" font-size="9.7" text-anchor="middle" fill="#111" textLength="12.8" lengthAdjust="spacingAndGlyphs" stroke="#111" stroke-width="0.35">1.0</text>
<text x="400.10" y="303.50" font-size="9.7" text-anchor="end" fill="#111" textLength="12.3" lengthAdjust="spacingAndGlyphs" stroke="#111" stroke-width="0.35">0.0</text>
<text x="400.10" y="264.90" font-size="9.7" text-anchor="end" fill="#111" textLength="12.3" lengthAdjust="spacingAndGlyphs" stroke="#111" stroke-width="0.35">0.6</text>
<text x="400.10" y="227.50" font-size="9.7" text-anchor="end" fill="#111" textLength="11.3" lengthAdjust="spacingAndGlyphs" stroke="#111" stroke-width="0.35">1.2</text>
<path d="M404.50,300.50 L448.56,273.37 L474.63,257.86 L502.42,244.94 L515.38,243.65 L528.34,237.19" stroke="#1e1e2a" stroke-width="0.7" fill="none" stroke-linejoin="round" stroke-linecap="butt" />
<path d="M404.50,300.50 L448.56,275.95 L474.63,259.16 L502.42,246.24 L515.38,245.59 L528.34,244.30" stroke="#1e1e2a" stroke-width="0.7" fill="none" stroke-linejoin="round" stroke-linecap="butt" />
<path d="M404.50,300.50 L448.56,278.54 L474.63,255.28 L502.42,248.82 L515.38,244.94 L528.34,246.24" stroke="#1e1e2a" stroke-width="0.7" fill="none" stroke-linejoin="round" stroke-linecap="butt" />
<path d="M404.50,300.50 L448.56,281.12 L474.63,256.57 L502.42,245.59 L515.38,248.82 L528.34,242.36" stroke="#1e1e2a" stroke-width="0.7" fill="none" stroke-linejoin="round" stroke-linecap="butt" />
<path d="M404.50,300.50 L448.56,283.70 L474.63,259.80 L502.42,249.47 L515.38,246.88 L528.34,244.94" stroke="#1e1e2a" stroke-width="0.7" fill="none" stroke-linejoin="round" stroke-linecap="butt" />
<path d="M404.50,300.50 L448.56,286.29 L474.63,254.63 L502.42,240.42 L515.38,247.53 L528.34,248.82" stroke="#3a4fb0" stroke-width="0.7" fill="none" stroke-linejoin="round" stroke-linecap="butt" />
<path d="M404.50,300.50 L448.56,287.58 L474.63,253.34 L502.42,238.48 L515.38,244.94 L528.34,252.70" stroke="#3a4fb0" stroke-width="0.7" fill="none" stroke-linejoin="round" stroke-linecap="butt" />
<path d="M404.50,300.50 L448.56,288.87 L474.63,252.70 L502.42,242.36 L515.38,246.24 L528.34,257.86" stroke="#3a4fb0" stroke-width="0.7" fill="none" stroke-linejoin="round" stroke-linecap="butt" />
<path d="M404.50,300.50 L448.56,290.16 L474.63,255.28 L502.42,243.65 L515.38,250.11 L528.34,241.07" stroke="#3a4fb0" stroke-width="0.7" fill="none" stroke-linejoin="round" stroke-linecap="butt" />
<path d="M404.50,300.50 L448.56,291.46 L474.63,253.99 L502.42,237.84 L515.38,243.65 L528.34,250.11" stroke="#3a4fb0" stroke-width="0.7" fill="none" stroke-linejoin="round" stroke-linecap="butt" />
<path d="M404.50,300.50 L448.56,287.58 L474.63,256.57 L502.42,221.69 L515.38,248.82 L528.34,255.28" stroke="#3a4fb0" stroke-width="0.7" fill="none" stroke-linejoin="round" stroke-linecap="butt" />
<path d="M404.50,300.50 L448.56,289.52 L474.63,254.63 L502.42,242.36 L515.38,222.98 L528.34,252.70" stroke="#3a4fb0" stroke-width="0.7" fill="none" stroke-linejoin="round" stroke-linecap="butt" />
<path d="M404.50,300.50 L449.14,274.01 L475.06,267.55 L503.14,256.57 L528.34,224.92" stroke="#e52028" stroke-width="3" fill="none" stroke-linejoin="round" stroke-linecap="butt" />
<path d="M404.50,300.50 L449.14,293.07 L475.06,252.37 L503.14,238.48 L529.20,250.76" stroke="#118040" stroke-width="3" fill="none" stroke-linejoin="round" stroke-linecap="butt" />
<rect x="533.0" y="287.2" width="15.5" height="13.300000000000011" fill="#fff" stroke="#333" stroke-width="0.9"/>
<text x="541.30" y="298.80" font-size="12.5" text-anchor="middle" fill="#1a1a1a" textLength="6.0" lengthAdjust="spacingAndGlyphs" stroke="#1a1a1a" stroke-width="0.25">F</text>
<text transform="translate(380.0,259.2) rotate(-90)" font-size="9.5" text-anchor="middle" fill="#1a1a1a" stroke="#1a1a1a" stroke-width="0.2">a/L<tspan font-size="7.5" dy="2.5">ne</tspan></text>
<text x="101.35" y="324.4" font-size="12.5" text-anchor="middle" fill="#111" stroke="#111" stroke-width="0.45">ρ</text>
<text x="288.85" y="324.4" font-size="12.5" text-anchor="middle" fill="#111" stroke="#111" stroke-width="0.45">ρ</text>
<text x="476.90" y="324.4" font-size="12.5" text-anchor="middle" fill="#111" stroke="#111" stroke-width="0.45">ρ</text>
</svg>
</body></html>
